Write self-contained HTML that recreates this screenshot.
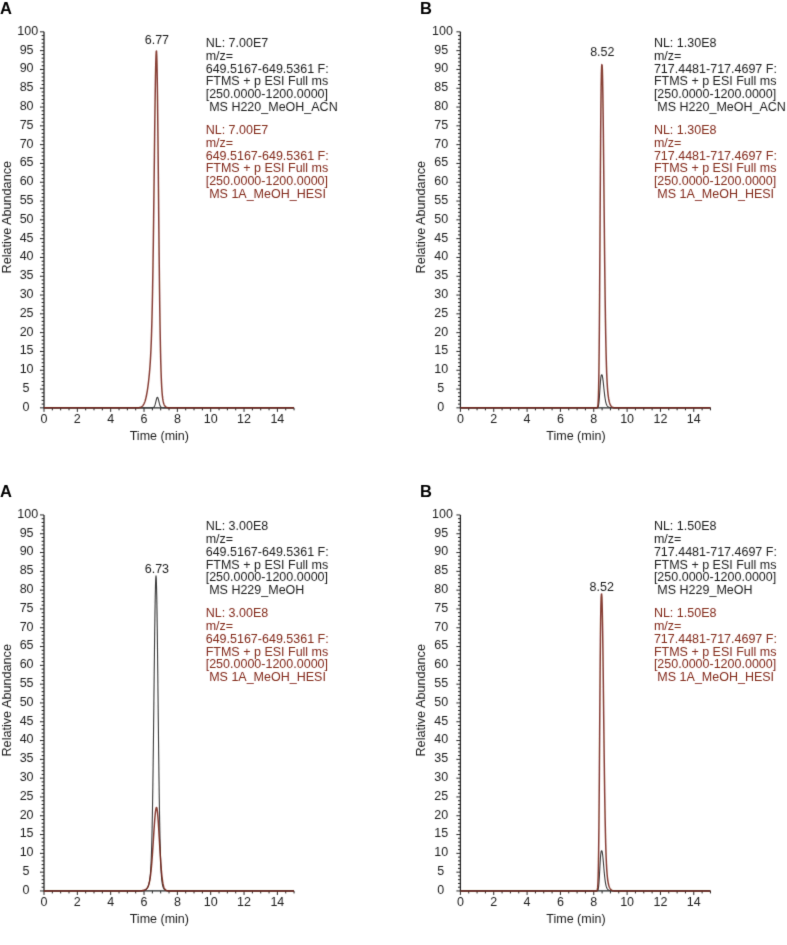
<!DOCTYPE html>
<html><head><meta charset="utf-8"><style>
html,body{margin:0;padding:0;background:#fff;}
body{width:787px;height:945px;overflow:hidden;}
svg{display:block;}
#w{will-change:transform;}
text{font-family:"Liberation Sans", sans-serif;font-size:12.5px;fill:#1e1e1e;}
text.r{fill:#82291b;}
text.L{font-size:16.5px;font-weight:bold;fill:#000;}
text.ra{font-size:12.65px;}
</style></head><body><div id="w">
<svg width="787" height="945" viewBox="0 0 787 945">
<defs><filter id="bl" filterUnits="userSpaceOnUse" x="0" y="0" width="787" height="945"><feConvolveMatrix order="3" kernelMatrix="0.0113 0.0838 0.0113 0.0838 0.6193 0.0838 0.0113 0.0838 0.0113" edgeMode="none" preserveAlpha="false"/></filter></defs>
<rect width="787" height="945" fill="#fff"/>
<g filter="url(#bl)">
<text class="L" x="0" y="14.2">A</text>
<path d="M44,31.85V407.85H294.05" fill="none" stroke="#262626" stroke-width="1.3"/>
<path d="M40,407.85H44M41.6,404.09H44M41.6,400.33H44M41.6,396.57H44M41.6,392.81H44M40,389.05H44M41.6,385.29H44M41.6,381.53H44M41.6,377.77H44M41.6,374.01H44M40,370.25H44M41.6,366.49H44M41.6,362.73H44M41.6,358.97H44M41.6,355.21H44M40,351.45H44M41.6,347.69H44M41.6,343.93H44M41.6,340.17H44M41.6,336.41H44M40,332.65H44M41.6,328.89H44M41.6,325.13H44M41.6,321.37H44M41.6,317.61H44M40,313.85H44M41.6,310.09H44M41.6,306.33H44M41.6,302.57H44M41.6,298.81H44M40,295.05H44M41.6,291.29H44M41.6,287.53H44M41.6,283.77H44M41.6,280.01H44M40,276.25H44M41.6,272.49H44M41.6,268.73H44M41.6,264.97H44M41.6,261.21H44M40,257.45H44M41.6,253.69H44M41.6,249.93H44M41.6,246.17H44M41.6,242.41H44M40,238.65H44M41.6,234.89H44M41.6,231.13H44M41.6,227.37H44M41.6,223.61H44M40,219.85H44M41.6,216.09H44M41.6,212.33H44M41.6,208.57H44M41.6,204.81H44M40,201.05H44M41.6,197.29H44M41.6,193.53H44M41.6,189.77H44M41.6,186.01H44M40,182.25H44M41.6,178.49H44M41.6,174.73H44M41.6,170.97H44M41.6,167.21H44M40,163.45H44M41.6,159.69H44M41.6,155.93H44M41.6,152.17H44M41.6,148.41H44M40,144.65H44M41.6,140.89H44M41.6,137.13H44M41.6,133.37H44M41.6,129.61H44M40,125.85H44M41.6,122.09H44M41.6,118.33H44M41.6,114.57H44M41.6,110.81H44M40,107.05H44M41.6,103.29H44M41.6,99.53H44M41.6,95.77H44M41.6,92.01H44M40,88.25H44M41.6,84.49H44M41.6,80.73H44M41.6,76.97H44M41.6,73.21H44M40,69.45H44M41.6,65.69H44M41.6,61.93H44M41.6,58.17H44M41.6,54.41H44M40,50.65H44M41.6,46.89H44M41.6,43.13H44M41.6,39.37H44M41.6,35.61H44M40,31.85H44M44,407.85V411.85M52.34,407.85V410.35M60.67,407.85V410.35M69,407.85V410.35M77.34,407.85V411.85M85.68,407.85V410.35M94.01,407.85V410.35M102.34,407.85V410.35M110.68,407.85V411.85M119.02,407.85V410.35M127.35,407.85V410.35M135.69,407.85V410.35M144.02,407.85V411.85M152.36,407.85V410.35M160.69,407.85V410.35M169.03,407.85V410.35M177.36,407.85V411.85M185.7,407.85V410.35M194.03,407.85V410.35M202.37,407.85V410.35M210.7,407.85V411.85M219.04,407.85V410.35M227.37,407.85V410.35M235.71,407.85V410.35M244.04,407.85V411.85M252.38,407.85V410.35M260.71,407.85V410.35M269.05,407.85V410.35M277.38,407.85V411.85M285.72,407.85V410.35M294.05,407.85V410.35" fill="none" stroke="#262626" stroke-width="1"/>
<text x="26" y="410.7" text-anchor="middle">0</text>
<text x="26" y="391.9" text-anchor="middle">5</text>
<text x="26.6" y="373.1" text-anchor="middle">10</text>
<text x="26.6" y="354.3" text-anchor="middle">15</text>
<text x="26.6" y="335.5" text-anchor="middle">20</text>
<text x="26.6" y="316.7" text-anchor="middle">25</text>
<text x="26.6" y="297.9" text-anchor="middle">30</text>
<text x="26.6" y="279.1" text-anchor="middle">35</text>
<text x="26.6" y="260.3" text-anchor="middle">40</text>
<text x="26.6" y="241.5" text-anchor="middle">45</text>
<text x="26.6" y="222.7" text-anchor="middle">50</text>
<text x="26.6" y="203.9" text-anchor="middle">55</text>
<text x="26.6" y="185.1" text-anchor="middle">60</text>
<text x="26.6" y="166.3" text-anchor="middle">65</text>
<text x="26.6" y="147.5" text-anchor="middle">70</text>
<text x="26.6" y="128.7" text-anchor="middle">75</text>
<text x="26.6" y="109.9" text-anchor="middle">80</text>
<text x="26.6" y="91.1" text-anchor="middle">85</text>
<text x="26.6" y="72.3" text-anchor="middle">90</text>
<text x="26.6" y="53.5" text-anchor="middle">95</text>
<text x="27.8" y="34.7" text-anchor="middle">100</text>
<text x="44" y="422.6" text-anchor="middle">0</text>
<text x="77.34" y="422.6" text-anchor="middle">2</text>
<text x="110.68" y="422.6" text-anchor="middle">4</text>
<text x="144.02" y="422.6" text-anchor="middle">6</text>
<text x="177.36" y="422.6" text-anchor="middle">8</text>
<text x="210.7" y="422.6" text-anchor="middle">10</text>
<text x="244.04" y="422.6" text-anchor="middle">12</text>
<text x="277.38" y="422.6" text-anchor="middle">14</text>
<text x="129.7" y="439.7">Time (min)</text>
<text class="ra" transform="translate(10.8,217.2) rotate(-90)" text-anchor="middle">Relative Abundance</text>
<path d="M44,407.85 L44.25,407.85 L44.5,407.85 L44.75,407.85 L45,407.85 L45.25,407.85 L45.5,407.85 L45.75,407.85 L46,407.85 L46.25,407.85 L46.5,407.85 L46.75,407.85 L47,407.85 L47.25,407.85 L47.5,407.85 L47.75,407.85 L48,407.85 L48.25,407.85 L48.5,407.85 L48.75,407.85 L49,407.85 L49.25,407.85 L49.5,407.85 L49.75,407.85 L50,407.85 L50.25,407.85 L50.5,407.85 L50.75,407.85 L51,407.85 L51.25,407.85 L51.5,407.85 L51.75,407.85 L52,407.85 L52.25,407.85 L52.5,407.85 L52.75,407.85 L53,407.85 L53.25,407.85 L53.5,407.85 L53.75,407.85 L54,407.85 L54.25,407.85 L54.5,407.85 L54.75,407.85 L55,407.85 L55.25,407.85 L55.5,407.85 L55.75,407.85 L56,407.85 L56.25,407.85 L56.5,407.85 L56.75,407.85 L57,407.85 L57.25,407.85 L57.5,407.85 L57.75,407.85 L58,407.85 L58.25,407.85 L58.5,407.85 L58.75,407.85 L59,407.85 L59.25,407.85 L59.5,407.85 L59.75,407.85 L60,407.85 L60.25,407.85 L60.5,407.85 L60.75,407.85 L61,407.85 L61.25,407.85 L61.5,407.85 L61.75,407.85 L62,407.85 L62.25,407.85 L62.5,407.85 L62.75,407.85 L63,407.85 L63.25,407.85 L63.5,407.85 L63.75,407.85 L64,407.85 L64.25,407.85 L64.5,407.85 L64.75,407.85 L65,407.85 L65.25,407.85 L65.5,407.85 L65.75,407.85 L66,407.85 L66.25,407.85 L66.5,407.85 L66.75,407.85 L67,407.85 L67.25,407.85 L67.5,407.85 L67.75,407.85 L68,407.85 L68.25,407.85 L68.5,407.85 L68.75,407.85 L69,407.85 L69.25,407.85 L69.5,407.85 L69.75,407.85 L70,407.85 L70.25,407.85 L70.5,407.85 L70.75,407.85 L71,407.85 L71.25,407.85 L71.5,407.85 L71.75,407.85 L72,407.85 L72.25,407.85 L72.5,407.85 L72.75,407.85 L73,407.85 L73.25,407.85 L73.5,407.85 L73.75,407.85 L74,407.85 L74.25,407.85 L74.5,407.85 L74.75,407.85 L75,407.85 L75.25,407.85 L75.5,407.85 L75.75,407.85 L76,407.85 L76.25,407.85 L76.5,407.85 L76.75,407.85 L77,407.85 L77.25,407.85 L77.5,407.85 L77.75,407.85 L78,407.85 L78.25,407.85 L78.5,407.85 L78.75,407.85 L79,407.85 L79.25,407.85 L79.5,407.85 L79.75,407.85 L80,407.85 L80.25,407.85 L80.5,407.85 L80.75,407.85 L81,407.85 L81.25,407.85 L81.5,407.85 L81.75,407.85 L82,407.85 L82.25,407.85 L82.5,407.85 L82.75,407.85 L83,407.85 L83.25,407.85 L83.5,407.85 L83.75,407.85 L84,407.85 L84.25,407.85 L84.5,407.85 L84.75,407.85 L85,407.85 L85.25,407.85 L85.5,407.85 L85.75,407.85 L86,407.85 L86.25,407.85 L86.5,407.85 L86.75,407.85 L87,407.85 L87.25,407.85 L87.5,407.85 L87.75,407.85 L88,407.85 L88.25,407.85 L88.5,407.85 L88.75,407.85 L89,407.85 L89.25,407.85 L89.5,407.85 L89.75,407.85 L90,407.85 L90.25,407.85 L90.5,407.85 L90.75,407.85 L91,407.85 L91.25,407.85 L91.5,407.85 L91.75,407.85 L92,407.85 L92.25,407.85 L92.5,407.85 L92.75,407.85 L93,407.85 L93.25,407.85 L93.5,407.85 L93.75,407.85 L94,407.85 L94.25,407.85 L94.5,407.85 L94.75,407.85 L95,407.85 L95.25,407.85 L95.5,407.85 L95.75,407.85 L96,407.85 L96.25,407.85 L96.5,407.85 L96.75,407.85 L97,407.85 L97.25,407.85 L97.5,407.85 L97.75,407.85 L98,407.85 L98.25,407.85 L98.5,407.85 L98.75,407.85 L99,407.85 L99.25,407.85 L99.5,407.85 L99.75,407.85 L100,407.85 L100.25,407.85 L100.5,407.85 L100.75,407.85 L101,407.85 L101.25,407.85 L101.5,407.85 L101.75,407.85 L102,407.85 L102.25,407.85 L102.5,407.85 L102.75,407.85 L103,407.85 L103.25,407.85 L103.5,407.85 L103.75,407.85 L104,407.85 L104.25,407.85 L104.5,407.85 L104.75,407.85 L105,407.85 L105.25,407.85 L105.5,407.85 L105.75,407.85 L106,407.85 L106.25,407.85 L106.5,407.85 L106.75,407.85 L107,407.85 L107.25,407.85 L107.5,407.85 L107.75,407.85 L108,407.85 L108.25,407.85 L108.5,407.85 L108.75,407.85 L109,407.85 L109.25,407.85 L109.5,407.85 L109.75,407.85 L110,407.85 L110.25,407.85 L110.5,407.85 L110.75,407.85 L111,407.85 L111.25,407.85 L111.5,407.85 L111.75,407.85 L112,407.85 L112.25,407.85 L112.5,407.85 L112.75,407.85 L113,407.85 L113.25,407.85 L113.5,407.85 L113.75,407.85 L114,407.85 L114.25,407.85 L114.5,407.85 L114.75,407.85 L115,407.85 L115.25,407.85 L115.5,407.85 L115.75,407.85 L116,407.85 L116.25,407.85 L116.5,407.85 L116.75,407.85 L117,407.85 L117.25,407.85 L117.5,407.85 L117.75,407.85 L118,407.85 L118.25,407.85 L118.5,407.85 L118.75,407.85 L119,407.85 L119.25,407.85 L119.5,407.85 L119.75,407.85 L120,407.85 L120.25,407.85 L120.5,407.85 L120.75,407.85 L121,407.85 L121.25,407.85 L121.5,407.85 L121.75,407.85 L122,407.85 L122.25,407.85 L122.5,407.85 L122.75,407.85 L123,407.85 L123.25,407.85 L123.5,407.85 L123.75,407.85 L124,407.85 L124.25,407.85 L124.5,407.85 L124.75,407.85 L125,407.85 L125.25,407.85 L125.5,407.85 L125.75,407.85 L126,407.85 L126.25,407.85 L126.5,407.85 L126.75,407.85 L127,407.85 L127.25,407.85 L127.5,407.85 L127.75,407.85 L128,407.85 L128.25,407.85 L128.5,407.85 L128.75,407.85 L129,407.85 L129.25,407.85 L129.5,407.85 L129.75,407.85 L130,407.85 L130.25,407.85 L130.5,407.85 L130.75,407.85 L131,407.85 L131.25,407.85 L131.5,407.85 L131.75,407.85 L132,407.85 L132.25,407.85 L132.5,407.85 L132.75,407.85 L133,407.85 L133.25,407.85 L133.5,407.85 L133.75,407.85 L134,407.85 L134.25,407.85 L134.5,407.85 L134.75,407.85 L135,407.85 L135.25,407.85 L135.5,407.85 L135.75,407.85 L136,407.85 L136.25,407.85 L136.5,407.85 L136.75,407.85 L137,407.85 L137.25,407.85 L137.5,407.85 L137.75,407.85 L138,407.85 L138.25,407.85 L138.5,407.85 L138.75,407.85 L139,407.85 L139.25,407.85 L139.5,407.85 L139.75,407.85 L140,407.85 L140.25,407.85 L140.5,407.85 L140.75,407.85 L141,407.85 L141.25,407.85 L141.5,407.85 L141.75,407.85 L142,407.85 L142.25,407.85 L142.5,407.85 L142.75,407.85 L143,407.85 L143.25,407.85 L143.5,407.85 L143.75,407.85 L144,407.85 L144.25,407.85 L144.5,407.85 L144.75,407.85 L145,407.85 L145.25,407.85 L145.5,407.85 L145.75,407.85 L146,407.85 L146.25,407.85 L146.5,407.85 L146.75,407.85 L147,407.85 L147.25,407.85 L147.5,407.85 L147.75,407.85 L148,407.85 L148.25,407.85 L148.5,407.85 L148.75,407.85 L149,407.85 L149.25,407.85 L149.5,407.85 L149.75,407.85 L150,407.85 L150.25,407.85 L150.5,407.85 L150.75,407.85 L151,407.85 L151.25,407.85 L151.5,407.85 L151.75,407.84 L152,407.83 L152.25,407.82 L152.5,407.8 L152.75,407.76 L153,407.71 L153.25,407.62 L153.5,407.49 L153.75,407.3 L154,407.04 L154.25,406.69 L154.5,406.23 L154.75,405.64 L155,404.92 L155.25,404.08 L155.5,403.13 L155.75,402.1 L156,401.04 L156.25,400 L156.5,399.06 L156.75,398.27 L157,397.69 L157.25,397.37 L157.5,397.35 L157.75,397.6 L158,398.13 L158.25,398.88 L158.5,399.8 L158.75,400.83 L159,401.89 L159.25,402.93 L159.5,403.9 L159.75,404.76 L160,405.51 L160.25,406.12 L160.5,406.61 L160.75,406.98 L161,407.26 L161.25,407.46 L161.5,407.6 L161.75,407.69 L162,407.75 L162.25,407.79 L162.5,407.82 L162.75,407.83 L163,407.84 L163.25,407.84 L163.5,407.85 L163.75,407.85 L164,407.85 L164.25,407.85 L164.5,407.85 L164.75,407.85 L165,407.85 L165.25,407.85 L165.5,407.85 L165.75,407.85 L166,407.85 L166.25,407.85 L166.5,407.85 L166.75,407.85 L167,407.85 L167.25,407.85 L167.5,407.85 L167.75,407.85 L168,407.85 L168.25,407.85 L168.5,407.85 L168.75,407.85 L169,407.85 L169.25,407.85 L169.5,407.85 L169.75,407.85 L170,407.85 L170.25,407.85 L170.5,407.85 L170.75,407.85 L171,407.85 L171.25,407.85 L171.5,407.85 L171.75,407.85 L172,407.85 L172.25,407.85 L172.5,407.85 L172.75,407.85 L173,407.85 L173.25,407.85 L173.5,407.85 L173.75,407.85 L174,407.85 L174.25,407.85 L174.5,407.85 L174.75,407.85 L175,407.85 L175.25,407.85 L175.5,407.85 L175.75,407.85 L176,407.85 L176.25,407.85 L176.5,407.85 L176.75,407.85 L177,407.85 L177.25,407.85 L177.5,407.85 L177.75,407.85 L178,407.85 L178.25,407.85 L178.5,407.85 L178.75,407.85 L179,407.85 L179.25,407.85 L179.5,407.85 L179.75,407.85 L180,407.85 L180.25,407.85 L180.5,407.85 L180.75,407.85 L181,407.85 L181.25,407.85 L181.5,407.85 L181.75,407.85 L182,407.85 L182.25,407.85 L182.5,407.85 L182.75,407.85 L183,407.85 L183.25,407.85 L183.5,407.85 L183.75,407.85 L184,407.85 L184.25,407.85 L184.5,407.85 L184.75,407.85 L185,407.85 L185.25,407.85 L185.5,407.85 L185.75,407.85 L186,407.85 L186.25,407.85 L186.5,407.85 L186.75,407.85 L187,407.85 L187.25,407.85 L187.5,407.85 L187.75,407.85 L188,407.85 L188.25,407.85 L188.5,407.85 L188.75,407.85 L189,407.85 L189.25,407.85 L189.5,407.85 L189.75,407.85 L190,407.85 L190.25,407.85 L190.5,407.85 L190.75,407.85 L191,407.85 L191.25,407.85 L191.5,407.85 L191.75,407.85 L192,407.85 L192.25,407.85 L192.5,407.85 L192.75,407.85 L193,407.85 L193.25,407.85 L193.5,407.85 L193.75,407.85 L194,407.85 L194.25,407.85 L194.5,407.85 L194.75,407.85 L195,407.85 L195.25,407.85 L195.5,407.85 L195.75,407.85 L196,407.85 L196.25,407.85 L196.5,407.85 L196.75,407.85 L197,407.85 L197.25,407.85 L197.5,407.85 L197.75,407.85 L198,407.85 L198.25,407.85 L198.5,407.85 L198.75,407.85 L199,407.85 L199.25,407.85 L199.5,407.85 L199.75,407.85 L200,407.85 L200.25,407.85 L200.5,407.85 L200.75,407.85 L201,407.85 L201.25,407.85 L201.5,407.85 L201.75,407.85 L202,407.85 L202.25,407.85 L202.5,407.85 L202.75,407.85 L203,407.85 L203.25,407.85 L203.5,407.85 L203.75,407.85 L204,407.85 L204.25,407.85 L204.5,407.85 L204.75,407.85 L205,407.85 L205.25,407.85 L205.5,407.85 L205.75,407.85 L206,407.85 L206.25,407.85 L206.5,407.85 L206.75,407.85 L207,407.85 L207.25,407.85 L207.5,407.85 L207.75,407.85 L208,407.85 L208.25,407.85 L208.5,407.85 L208.75,407.85 L209,407.85 L209.25,407.85 L209.5,407.85 L209.75,407.85 L210,407.85 L210.25,407.85 L210.5,407.85 L210.75,407.85 L211,407.85 L211.25,407.85 L211.5,407.85 L211.75,407.85 L212,407.85 L212.25,407.85 L212.5,407.85 L212.75,407.85 L213,407.85 L213.25,407.85 L213.5,407.85 L213.75,407.85 L214,407.85 L214.25,407.85 L214.5,407.85 L214.75,407.85 L215,407.85 L215.25,407.85 L215.5,407.85 L215.75,407.85 L216,407.85 L216.25,407.85 L216.5,407.85 L216.75,407.85 L217,407.85 L217.25,407.85 L217.5,407.85 L217.75,407.85 L218,407.85 L218.25,407.85 L218.5,407.85 L218.75,407.85 L219,407.85 L219.25,407.85 L219.5,407.85 L219.75,407.85 L220,407.85 L220.25,407.85 L220.5,407.85 L220.75,407.85 L221,407.85 L221.25,407.85 L221.5,407.85 L221.75,407.85 L222,407.85 L222.25,407.85 L222.5,407.85 L222.75,407.85 L223,407.85 L223.25,407.85 L223.5,407.85 L223.75,407.85 L224,407.85 L224.25,407.85 L224.5,407.85 L224.75,407.85 L225,407.85 L225.25,407.85 L225.5,407.85 L225.75,407.85 L226,407.85 L226.25,407.85 L226.5,407.85 L226.75,407.85 L227,407.85 L227.25,407.85 L227.5,407.85 L227.75,407.85 L228,407.85 L228.25,407.85 L228.5,407.85 L228.75,407.85 L229,407.85 L229.25,407.85 L229.5,407.85 L229.75,407.85 L230,407.85 L230.25,407.85 L230.5,407.85 L230.75,407.85 L231,407.85 L231.25,407.85 L231.5,407.85 L231.75,407.85 L232,407.85 L232.25,407.85 L232.5,407.85 L232.75,407.85 L233,407.85 L233.25,407.85 L233.5,407.85 L233.75,407.85 L234,407.85 L234.25,407.85 L234.5,407.85 L234.75,407.85 L235,407.85 L235.25,407.85 L235.5,407.85 L235.75,407.85 L236,407.85 L236.25,407.85 L236.5,407.85 L236.75,407.85 L237,407.85 L237.25,407.85 L237.5,407.85 L237.75,407.85 L238,407.85 L238.25,407.85 L238.5,407.85 L238.75,407.85 L239,407.85 L239.25,407.85 L239.5,407.85 L239.75,407.85 L240,407.85 L240.25,407.85 L240.5,407.85 L240.75,407.85 L241,407.85 L241.25,407.85 L241.5,407.85 L241.75,407.85 L242,407.85 L242.25,407.85 L242.5,407.85 L242.75,407.85 L243,407.85 L243.25,407.85 L243.5,407.85 L243.75,407.85 L244,407.85 L244.25,407.85 L244.5,407.85 L244.75,407.85 L245,407.85 L245.25,407.85 L245.5,407.85 L245.75,407.85 L246,407.85 L246.25,407.85 L246.5,407.85 L246.75,407.85 L247,407.85 L247.25,407.85 L247.5,407.85 L247.75,407.85 L248,407.85 L248.25,407.85 L248.5,407.85 L248.75,407.85 L249,407.85 L249.25,407.85 L249.5,407.85 L249.75,407.85 L250,407.85 L250.25,407.85 L250.5,407.85 L250.75,407.85 L251,407.85 L251.25,407.85 L251.5,407.85 L251.75,407.85 L252,407.85 L252.25,407.85 L252.5,407.85 L252.75,407.85 L253,407.85 L253.25,407.85 L253.5,407.85 L253.75,407.85 L254,407.85 L254.25,407.85 L254.5,407.85 L254.75,407.85 L255,407.85 L255.25,407.85 L255.5,407.85 L255.75,407.85 L256,407.85 L256.25,407.85 L256.5,407.85 L256.75,407.85 L257,407.85 L257.25,407.85 L257.5,407.85 L257.75,407.85 L258,407.85 L258.25,407.85 L258.5,407.85 L258.75,407.85 L259,407.85 L259.25,407.85 L259.5,407.85 L259.75,407.85 L260,407.85 L260.25,407.85 L260.5,407.85 L260.75,407.85 L261,407.85 L261.25,407.85 L261.5,407.85 L261.75,407.85 L262,407.85 L262.25,407.85 L262.5,407.85 L262.75,407.85 L263,407.85 L263.25,407.85 L263.5,407.85 L263.75,407.85 L264,407.85 L264.25,407.85 L264.5,407.85 L264.75,407.85 L265,407.85 L265.25,407.85 L265.5,407.85 L265.75,407.85 L266,407.85 L266.25,407.85 L266.5,407.85 L266.75,407.85 L267,407.85 L267.25,407.85 L267.5,407.85 L267.75,407.85 L268,407.85 L268.25,407.85 L268.5,407.85 L268.75,407.85 L269,407.85 L269.25,407.85 L269.5,407.85 L269.75,407.85 L270,407.85 L270.25,407.85 L270.5,407.85 L270.75,407.85 L271,407.85 L271.25,407.85 L271.5,407.85 L271.75,407.85 L272,407.85 L272.25,407.85 L272.5,407.85 L272.75,407.85 L273,407.85 L273.25,407.85 L273.5,407.85 L273.75,407.85 L274,407.85 L274.25,407.85 L274.5,407.85 L274.75,407.85 L275,407.85 L275.25,407.85 L275.5,407.85 L275.75,407.85 L276,407.85 L276.25,407.85 L276.5,407.85 L276.75,407.85 L277,407.85 L277.25,407.85 L277.5,407.85 L277.75,407.85 L278,407.85 L278.25,407.85 L278.5,407.85 L278.75,407.85 L279,407.85 L279.25,407.85 L279.5,407.85 L279.75,407.85 L280,407.85 L280.25,407.85 L280.5,407.85 L280.75,407.85 L281,407.85 L281.25,407.85 L281.5,407.85 L281.75,407.85 L282,407.85 L282.25,407.85 L282.5,407.85 L282.75,407.85 L283,407.85 L283.25,407.85 L283.5,407.85 L283.75,407.85 L284,407.85 L284.25,407.85 L284.5,407.85 L284.75,407.85 L285,407.85 L285.25,407.85 L285.5,407.85 L285.75,407.85 L286,407.85 L286.25,407.85 L286.5,407.85 L286.75,407.85 L287,407.85 L287.25,407.85 L287.5,407.85 L287.75,407.85 L288,407.85 L288.25,407.85 L288.5,407.85 L288.75,407.85 L289,407.85 L289.25,407.85 L289.5,407.85 L289.75,407.85 L290,407.85 L290.25,407.85 L290.5,407.85 L290.75,407.85 L291,407.85 L291.25,407.85 L291.5,407.85 L291.75,407.85 L292,407.85 L292.25,407.85 L292.5,407.85 L292.75,407.85 L293,407.85 L293.25,407.85 L293.5,407.85 L293.75,407.85 L294,407.85" fill="none" stroke="#3a3a3a" stroke-width="1.1" stroke-linejoin="round"/>
<path d="M44,407.85 L44.25,407.85 L44.5,407.85 L44.75,407.85 L45,407.85 L45.25,407.85 L45.5,407.85 L45.75,407.85 L46,407.85 L46.25,407.85 L46.5,407.85 L46.75,407.85 L47,407.85 L47.25,407.85 L47.5,407.85 L47.75,407.85 L48,407.85 L48.25,407.85 L48.5,407.85 L48.75,407.85 L49,407.85 L49.25,407.85 L49.5,407.85 L49.75,407.85 L50,407.85 L50.25,407.85 L50.5,407.85 L50.75,407.85 L51,407.85 L51.25,407.85 L51.5,407.85 L51.75,407.85 L52,407.85 L52.25,407.85 L52.5,407.85 L52.75,407.85 L53,407.85 L53.25,407.85 L53.5,407.85 L53.75,407.85 L54,407.85 L54.25,407.85 L54.5,407.85 L54.75,407.85 L55,407.85 L55.25,407.85 L55.5,407.85 L55.75,407.85 L56,407.85 L56.25,407.85 L56.5,407.85 L56.75,407.85 L57,407.85 L57.25,407.85 L57.5,407.85 L57.75,407.85 L58,407.85 L58.25,407.85 L58.5,407.85 L58.75,407.85 L59,407.85 L59.25,407.85 L59.5,407.85 L59.75,407.85 L60,407.85 L60.25,407.85 L60.5,407.85 L60.75,407.85 L61,407.85 L61.25,407.85 L61.5,407.85 L61.75,407.85 L62,407.85 L62.25,407.85 L62.5,407.85 L62.75,407.85 L63,407.85 L63.25,407.85 L63.5,407.85 L63.75,407.85 L64,407.85 L64.25,407.85 L64.5,407.85 L64.75,407.85 L65,407.85 L65.25,407.85 L65.5,407.85 L65.75,407.85 L66,407.85 L66.25,407.85 L66.5,407.85 L66.75,407.85 L67,407.85 L67.25,407.85 L67.5,407.85 L67.75,407.85 L68,407.85 L68.25,407.85 L68.5,407.85 L68.75,407.85 L69,407.85 L69.25,407.85 L69.5,407.85 L69.75,407.85 L70,407.85 L70.25,407.85 L70.5,407.85 L70.75,407.85 L71,407.85 L71.25,407.85 L71.5,407.85 L71.75,407.85 L72,407.85 L72.25,407.85 L72.5,407.85 L72.75,407.85 L73,407.85 L73.25,407.85 L73.5,407.85 L73.75,407.85 L74,407.85 L74.25,407.85 L74.5,407.85 L74.75,407.85 L75,407.85 L75.25,407.85 L75.5,407.85 L75.75,407.85 L76,407.85 L76.25,407.85 L76.5,407.85 L76.75,407.85 L77,407.85 L77.25,407.85 L77.5,407.85 L77.75,407.85 L78,407.85 L78.25,407.85 L78.5,407.85 L78.75,407.85 L79,407.85 L79.25,407.85 L79.5,407.85 L79.75,407.85 L80,407.85 L80.25,407.85 L80.5,407.85 L80.75,407.85 L81,407.85 L81.25,407.85 L81.5,407.85 L81.75,407.85 L82,407.85 L82.25,407.85 L82.5,407.85 L82.75,407.85 L83,407.85 L83.25,407.85 L83.5,407.85 L83.75,407.85 L84,407.85 L84.25,407.85 L84.5,407.85 L84.75,407.85 L85,407.85 L85.25,407.85 L85.5,407.85 L85.75,407.85 L86,407.85 L86.25,407.85 L86.5,407.85 L86.75,407.85 L87,407.85 L87.25,407.85 L87.5,407.85 L87.75,407.85 L88,407.85 L88.25,407.85 L88.5,407.85 L88.75,407.85 L89,407.85 L89.25,407.85 L89.5,407.85 L89.75,407.85 L90,407.85 L90.25,407.85 L90.5,407.85 L90.75,407.85 L91,407.85 L91.25,407.85 L91.5,407.85 L91.75,407.85 L92,407.85 L92.25,407.85 L92.5,407.85 L92.75,407.85 L93,407.85 L93.25,407.85 L93.5,407.85 L93.75,407.85 L94,407.85 L94.25,407.85 L94.5,407.85 L94.75,407.85 L95,407.85 L95.25,407.85 L95.5,407.85 L95.75,407.85 L96,407.85 L96.25,407.85 L96.5,407.85 L96.75,407.85 L97,407.85 L97.25,407.85 L97.5,407.85 L97.75,407.85 L98,407.85 L98.25,407.85 L98.5,407.85 L98.75,407.85 L99,407.85 L99.25,407.85 L99.5,407.85 L99.75,407.85 L100,407.85 L100.25,407.85 L100.5,407.85 L100.75,407.85 L101,407.85 L101.25,407.85 L101.5,407.85 L101.75,407.85 L102,407.85 L102.25,407.85 L102.5,407.85 L102.75,407.85 L103,407.85 L103.25,407.85 L103.5,407.85 L103.75,407.85 L104,407.85 L104.25,407.85 L104.5,407.85 L104.75,407.85 L105,407.85 L105.25,407.85 L105.5,407.85 L105.75,407.85 L106,407.85 L106.25,407.85 L106.5,407.85 L106.75,407.85 L107,407.85 L107.25,407.85 L107.5,407.85 L107.75,407.85 L108,407.85 L108.25,407.85 L108.5,407.85 L108.75,407.85 L109,407.85 L109.25,407.85 L109.5,407.85 L109.75,407.85 L110,407.85 L110.25,407.85 L110.5,407.85 L110.75,407.85 L111,407.85 L111.25,407.85 L111.5,407.85 L111.75,407.85 L112,407.85 L112.25,407.85 L112.5,407.85 L112.75,407.85 L113,407.85 L113.25,407.85 L113.5,407.85 L113.75,407.85 L114,407.85 L114.25,407.85 L114.5,407.85 L114.75,407.85 L115,407.85 L115.25,407.85 L115.5,407.85 L115.75,407.85 L116,407.85 L116.25,407.85 L116.5,407.85 L116.75,407.85 L117,407.85 L117.25,407.85 L117.5,407.85 L117.75,407.85 L118,407.85 L118.25,407.85 L118.5,407.85 L118.75,407.85 L119,407.85 L119.25,407.85 L119.5,407.85 L119.75,407.85 L120,407.85 L120.25,407.85 L120.5,407.85 L120.75,407.85 L121,407.85 L121.25,407.85 L121.5,407.85 L121.75,407.85 L122,407.85 L122.25,407.85 L122.5,407.85 L122.75,407.85 L123,407.85 L123.25,407.85 L123.5,407.85 L123.75,407.85 L124,407.85 L124.25,407.85 L124.5,407.85 L124.75,407.85 L125,407.85 L125.25,407.85 L125.5,407.85 L125.75,407.85 L126,407.85 L126.25,407.85 L126.5,407.85 L126.75,407.85 L127,407.85 L127.25,407.85 L127.5,407.85 L127.75,407.85 L128,407.85 L128.25,407.85 L128.5,407.85 L128.75,407.85 L129,407.85 L129.25,407.85 L129.5,407.85 L129.75,407.85 L130,407.85 L130.25,407.85 L130.5,407.85 L130.75,407.85 L131,407.85 L131.25,407.85 L131.5,407.85 L131.75,407.85 L132,407.85 L132.25,407.85 L132.5,407.85 L132.75,407.85 L133,407.85 L133.25,407.85 L133.5,407.85 L133.75,407.85 L134,407.85 L134.25,407.85 L134.5,407.84 L134.75,407.84 L135,407.84 L135.25,407.84 L135.5,407.84 L135.75,407.83 L136,407.83 L136.25,407.82 L136.5,407.82 L136.75,407.81 L137,407.8 L137.25,407.79 L137.5,407.78 L137.75,407.76 L138,407.75 L138.25,407.73 L138.5,407.7 L138.75,407.67 L139,407.64 L139.25,407.6 L139.5,407.55 L139.75,407.5 L140,407.44 L140.25,407.37 L140.5,407.28 L140.75,407.18 L141,407.07 L141.25,406.94 L141.5,406.8 L141.75,406.63 L142,406.44 L142.25,406.22 L142.5,405.98 L142.75,405.7 L143,405.39 L143.25,405.04 L143.5,404.65 L143.75,404.21 L144,403.73 L144.25,403.19 L144.5,402.59 L144.75,401.93 L145,401.21 L145.25,400.42 L145.5,399.55 L145.75,398.61 L146,397.58 L146.25,396.47 L146.5,395.27 L146.75,393.98 L147,392.58 L147.25,391.09 L147.5,389.5 L147.75,387.8 L148,385.98 L148.25,384.05 L148.5,381.99 L148.75,379.79 L149,377.44 L149.25,374.91 L149.5,372.18 L149.75,369.19 L150,365.91 L150.25,362.26 L150.5,358.16 L150.75,353.51 L151,348.19 L151.25,342.07 L151.5,335 L151.75,326.82 L152,317.39 L152.25,306.56 L152.5,294.22 L152.75,280.28 L153,264.75 L153.25,247.65 L153.5,229.13 L153.75,209.42 L154,188.84 L154.25,167.81 L154.5,146.85 L154.75,126.53 L155,107.47 L155.25,90.28 L155.5,75.59 L155.75,63.93 L156,55.75 L156.25,51.37 L156.5,51.07 L156.75,55.71 L157,65.32 L157.25,79.45 L157.5,97.5 L157.75,118.7 L158,142.23 L158.25,167.2 L158.5,192.77 L158.75,218.14 L159,242.65 L159.25,265.74 L159.5,287.01 L159.75,306.2 L160,323.18 L160.25,337.94 L160.5,350.55 L160.75,361.16 L161,369.96 L161.25,377.18 L161.5,383.05 L161.75,387.76 L162,391.54 L162.25,394.55 L162.5,396.96 L162.75,398.88 L163,400.43 L163.25,401.68 L163.5,402.7 L163.75,403.54 L164,404.23 L164.25,404.82 L164.5,405.31 L164.75,405.72 L165,406.07 L165.25,406.37 L165.5,406.62 L165.75,406.84 L166,407.02 L166.25,407.17 L166.5,407.29 L166.75,407.4 L167,407.49 L167.25,407.56 L167.5,407.62 L167.75,407.66 L168,407.7 L168.25,407.73 L168.5,407.76 L168.75,407.78 L169,407.8 L169.25,407.81 L169.5,407.82 L169.75,407.83 L170,407.83 L170.25,407.84 L170.5,407.84 L170.75,407.84 L171,407.84 L171.25,407.85 L171.5,407.85 L171.75,407.85 L172,407.85 L172.25,407.85 L172.5,407.85 L172.75,407.85 L173,407.85 L173.25,407.85 L173.5,407.85 L173.75,407.85 L174,407.85 L174.25,407.85 L174.5,407.85 L174.75,407.85 L175,407.85 L175.25,407.85 L175.5,407.85 L175.75,407.85 L176,407.85 L176.25,407.85 L176.5,407.85 L176.75,407.85 L177,407.85 L177.25,407.85 L177.5,407.85 L177.75,407.85 L178,407.85 L178.25,407.85 L178.5,407.85 L178.75,407.85 L179,407.85 L179.25,407.85 L179.5,407.85 L179.75,407.85 L180,407.85 L180.25,407.85 L180.5,407.85 L180.75,407.85 L181,407.85 L181.25,407.85 L181.5,407.85 L181.75,407.85 L182,407.85 L182.25,407.85 L182.5,407.85 L182.75,407.85 L183,407.85 L183.25,407.85 L183.5,407.85 L183.75,407.85 L184,407.85 L184.25,407.85 L184.5,407.85 L184.75,407.85 L185,407.85 L185.25,407.85 L185.5,407.85 L185.75,407.85 L186,407.85 L186.25,407.85 L186.5,407.85 L186.75,407.85 L187,407.85 L187.25,407.85 L187.5,407.85 L187.75,407.85 L188,407.85 L188.25,407.85 L188.5,407.85 L188.75,407.85 L189,407.85 L189.25,407.85 L189.5,407.85 L189.75,407.85 L190,407.85 L190.25,407.85 L190.5,407.85 L190.75,407.85 L191,407.85 L191.25,407.85 L191.5,407.85 L191.75,407.85 L192,407.85 L192.25,407.85 L192.5,407.85 L192.75,407.85 L193,407.85 L193.25,407.85 L193.5,407.85 L193.75,407.85 L194,407.85 L194.25,407.85 L194.5,407.85 L194.75,407.85 L195,407.85 L195.25,407.85 L195.5,407.85 L195.75,407.85 L196,407.85 L196.25,407.85 L196.5,407.85 L196.75,407.85 L197,407.85 L197.25,407.85 L197.5,407.85 L197.75,407.85 L198,407.85 L198.25,407.85 L198.5,407.85 L198.75,407.85 L199,407.85 L199.25,407.85 L199.5,407.85 L199.75,407.85 L200,407.85 L200.25,407.85 L200.5,407.85 L200.75,407.85 L201,407.85 L201.25,407.85 L201.5,407.85 L201.75,407.85 L202,407.85 L202.25,407.85 L202.5,407.85 L202.75,407.85 L203,407.85 L203.25,407.85 L203.5,407.85 L203.75,407.85 L204,407.85 L204.25,407.85 L204.5,407.85 L204.75,407.85 L205,407.85 L205.25,407.85 L205.5,407.85 L205.75,407.85 L206,407.85 L206.25,407.85 L206.5,407.85 L206.75,407.85 L207,407.85 L207.25,407.85 L207.5,407.85 L207.75,407.85 L208,407.85 L208.25,407.85 L208.5,407.85 L208.75,407.85 L209,407.85 L209.25,407.85 L209.5,407.85 L209.75,407.85 L210,407.85 L210.25,407.85 L210.5,407.85 L210.75,407.85 L211,407.85 L211.25,407.85 L211.5,407.85 L211.75,407.85 L212,407.85 L212.25,407.85 L212.5,407.85 L212.75,407.85 L213,407.85 L213.25,407.85 L213.5,407.85 L213.75,407.85 L214,407.85 L214.25,407.85 L214.5,407.85 L214.75,407.85 L215,407.85 L215.25,407.85 L215.5,407.85 L215.75,407.85 L216,407.85 L216.25,407.85 L216.5,407.85 L216.75,407.85 L217,407.85 L217.25,407.85 L217.5,407.85 L217.75,407.85 L218,407.85 L218.25,407.85 L218.5,407.85 L218.75,407.85 L219,407.85 L219.25,407.85 L219.5,407.85 L219.75,407.85 L220,407.85 L220.25,407.85 L220.5,407.85 L220.75,407.85 L221,407.85 L221.25,407.85 L221.5,407.85 L221.75,407.85 L222,407.85 L222.25,407.85 L222.5,407.85 L222.75,407.85 L223,407.85 L223.25,407.85 L223.5,407.85 L223.75,407.85 L224,407.85 L224.25,407.85 L224.5,407.85 L224.75,407.85 L225,407.85 L225.25,407.85 L225.5,407.85 L225.75,407.85 L226,407.85 L226.25,407.85 L226.5,407.85 L226.75,407.85 L227,407.85 L227.25,407.85 L227.5,407.85 L227.75,407.85 L228,407.85 L228.25,407.85 L228.5,407.85 L228.75,407.85 L229,407.85 L229.25,407.85 L229.5,407.85 L229.75,407.85 L230,407.85 L230.25,407.85 L230.5,407.85 L230.75,407.85 L231,407.85 L231.25,407.85 L231.5,407.85 L231.75,407.85 L232,407.85 L232.25,407.85 L232.5,407.85 L232.75,407.85 L233,407.85 L233.25,407.85 L233.5,407.85 L233.75,407.85 L234,407.85 L234.25,407.85 L234.5,407.85 L234.75,407.85 L235,407.85 L235.25,407.85 L235.5,407.85 L235.75,407.85 L236,407.85 L236.25,407.85 L236.5,407.85 L236.75,407.85 L237,407.85 L237.25,407.85 L237.5,407.85 L237.75,407.85 L238,407.85 L238.25,407.85 L238.5,407.85 L238.75,407.85 L239,407.85 L239.25,407.85 L239.5,407.85 L239.75,407.85 L240,407.85 L240.25,407.85 L240.5,407.85 L240.75,407.85 L241,407.85 L241.25,407.85 L241.5,407.85 L241.75,407.85 L242,407.85 L242.25,407.85 L242.5,407.85 L242.75,407.85 L243,407.85 L243.25,407.85 L243.5,407.85 L243.75,407.85 L244,407.85 L244.25,407.85 L244.5,407.85 L244.75,407.85 L245,407.85 L245.25,407.85 L245.5,407.85 L245.75,407.85 L246,407.85 L246.25,407.85 L246.5,407.85 L246.75,407.85 L247,407.85 L247.25,407.85 L247.5,407.85 L247.75,407.85 L248,407.85 L248.25,407.85 L248.5,407.85 L248.75,407.85 L249,407.85 L249.25,407.85 L249.5,407.85 L249.75,407.85 L250,407.85 L250.25,407.85 L250.5,407.85 L250.75,407.85 L251,407.85 L251.25,407.85 L251.5,407.85 L251.75,407.85 L252,407.85 L252.25,407.85 L252.5,407.85 L252.75,407.85 L253,407.85 L253.25,407.85 L253.5,407.85 L253.75,407.85 L254,407.85 L254.25,407.85 L254.5,407.85 L254.75,407.85 L255,407.85 L255.25,407.85 L255.5,407.85 L255.75,407.85 L256,407.85 L256.25,407.85 L256.5,407.85 L256.75,407.85 L257,407.85 L257.25,407.85 L257.5,407.85 L257.75,407.85 L258,407.85 L258.25,407.85 L258.5,407.85 L258.75,407.85 L259,407.85 L259.25,407.85 L259.5,407.85 L259.75,407.85 L260,407.85 L260.25,407.85 L260.5,407.85 L260.75,407.85 L261,407.85 L261.25,407.85 L261.5,407.85 L261.75,407.85 L262,407.85 L262.25,407.85 L262.5,407.85 L262.75,407.85 L263,407.85 L263.25,407.85 L263.5,407.85 L263.75,407.85 L264,407.85 L264.25,407.85 L264.5,407.85 L264.75,407.85 L265,407.85 L265.25,407.85 L265.5,407.85 L265.75,407.85 L266,407.85 L266.25,407.85 L266.5,407.85 L266.75,407.85 L267,407.85 L267.25,407.85 L267.5,407.85 L267.75,407.85 L268,407.85 L268.25,407.85 L268.5,407.85 L268.75,407.85 L269,407.85 L269.25,407.85 L269.5,407.85 L269.75,407.85 L270,407.85 L270.25,407.85 L270.5,407.85 L270.75,407.85 L271,407.85 L271.25,407.85 L271.5,407.85 L271.75,407.85 L272,407.85 L272.25,407.85 L272.5,407.85 L272.75,407.85 L273,407.85 L273.25,407.85 L273.5,407.85 L273.75,407.85 L274,407.85 L274.25,407.85 L274.5,407.85 L274.75,407.85 L275,407.85 L275.25,407.85 L275.5,407.85 L275.75,407.85 L276,407.85 L276.25,407.85 L276.5,407.85 L276.75,407.85 L277,407.85 L277.25,407.85 L277.5,407.85 L277.75,407.85 L278,407.85 L278.25,407.85 L278.5,407.85 L278.75,407.85 L279,407.85 L279.25,407.85 L279.5,407.85 L279.75,407.85 L280,407.85 L280.25,407.85 L280.5,407.85 L280.75,407.85 L281,407.85 L281.25,407.85 L281.5,407.85 L281.75,407.85 L282,407.85 L282.25,407.85 L282.5,407.85 L282.75,407.85 L283,407.85 L283.25,407.85 L283.5,407.85 L283.75,407.85 L284,407.85 L284.25,407.85 L284.5,407.85 L284.75,407.85 L285,407.85 L285.25,407.85 L285.5,407.85 L285.75,407.85 L286,407.85 L286.25,407.85 L286.5,407.85 L286.75,407.85 L287,407.85 L287.25,407.85 L287.5,407.85 L287.75,407.85 L288,407.85 L288.25,407.85 L288.5,407.85 L288.75,407.85 L289,407.85 L289.25,407.85 L289.5,407.85 L289.75,407.85 L290,407.85 L290.25,407.85 L290.5,407.85 L290.75,407.85 L291,407.85 L291.25,407.85 L291.5,407.85 L291.75,407.85 L292,407.85 L292.25,407.85 L292.5,407.85 L292.75,407.85 L293,407.85 L293.25,407.85 L293.5,407.85 L293.75,407.85 L294,407.85" fill="none" stroke="#762418" stroke-width="1.5" stroke-opacity="0.88" stroke-linejoin="round"/>
<text x="156.9" y="43.9" text-anchor="middle">6.77</text>
<text x="205.7" y="46.9" xml:space="preserve">NL: 7.00E7</text>
<text x="205.7" y="59.75" xml:space="preserve">m/z=</text>
<text x="205.7" y="72.6" xml:space="preserve">649.5167-649.5361 F:</text>
<text x="205.7" y="85.45" xml:space="preserve">FTMS + p ESI Full ms</text>
<text x="205.7" y="98.3" xml:space="preserve">[250.0000-1200.0000]</text>
<text x="205.7" y="111.15" xml:space="preserve"> MS H220_MeOH_ACN</text>
<text class="r" x="205.7" y="133.9" xml:space="preserve">NL: 7.00E7</text>
<text class="r" x="205.7" y="146.75" xml:space="preserve">m/z=</text>
<text class="r" x="205.7" y="159.6" xml:space="preserve">649.5167-649.5361 F:</text>
<text class="r" x="205.7" y="172.45" xml:space="preserve">FTMS + p ESI Full ms</text>
<text class="r" x="205.7" y="185.3" xml:space="preserve">[250.0000-1200.0000]</text>
<text class="r" x="205.7" y="198.15" xml:space="preserve"> MS 1A_MeOH_HESI</text>
<text class="L" x="420" y="14.2">B</text>
<path d="M460.4,31.85V407.85H710.45" fill="none" stroke="#262626" stroke-width="1.3"/>
<path d="M456.4,407.85H460.4M458,404.09H460.4M458,400.33H460.4M458,396.57H460.4M458,392.81H460.4M456.4,389.05H460.4M458,385.29H460.4M458,381.53H460.4M458,377.77H460.4M458,374.01H460.4M456.4,370.25H460.4M458,366.49H460.4M458,362.73H460.4M458,358.97H460.4M458,355.21H460.4M456.4,351.45H460.4M458,347.69H460.4M458,343.93H460.4M458,340.17H460.4M458,336.41H460.4M456.4,332.65H460.4M458,328.89H460.4M458,325.13H460.4M458,321.37H460.4M458,317.61H460.4M456.4,313.85H460.4M458,310.09H460.4M458,306.33H460.4M458,302.57H460.4M458,298.81H460.4M456.4,295.05H460.4M458,291.29H460.4M458,287.53H460.4M458,283.77H460.4M458,280.01H460.4M456.4,276.25H460.4M458,272.49H460.4M458,268.73H460.4M458,264.97H460.4M458,261.21H460.4M456.4,257.45H460.4M458,253.69H460.4M458,249.93H460.4M458,246.17H460.4M458,242.41H460.4M456.4,238.65H460.4M458,234.89H460.4M458,231.13H460.4M458,227.37H460.4M458,223.61H460.4M456.4,219.85H460.4M458,216.09H460.4M458,212.33H460.4M458,208.57H460.4M458,204.81H460.4M456.4,201.05H460.4M458,197.29H460.4M458,193.53H460.4M458,189.77H460.4M458,186.01H460.4M456.4,182.25H460.4M458,178.49H460.4M458,174.73H460.4M458,170.97H460.4M458,167.21H460.4M456.4,163.45H460.4M458,159.69H460.4M458,155.93H460.4M458,152.17H460.4M458,148.41H460.4M456.4,144.65H460.4M458,140.89H460.4M458,137.13H460.4M458,133.37H460.4M458,129.61H460.4M456.4,125.85H460.4M458,122.09H460.4M458,118.33H460.4M458,114.57H460.4M458,110.81H460.4M456.4,107.05H460.4M458,103.29H460.4M458,99.53H460.4M458,95.77H460.4M458,92.01H460.4M456.4,88.25H460.4M458,84.49H460.4M458,80.73H460.4M458,76.97H460.4M458,73.21H460.4M456.4,69.45H460.4M458,65.69H460.4M458,61.93H460.4M458,58.17H460.4M458,54.41H460.4M456.4,50.65H460.4M458,46.89H460.4M458,43.13H460.4M458,39.37H460.4M458,35.61H460.4M456.4,31.85H460.4M460.4,407.85V411.85M468.73,407.85V410.35M477.07,407.85V410.35M485.4,407.85V410.35M493.74,407.85V411.85M502.07,407.85V410.35M510.41,407.85V410.35M518.75,407.85V410.35M527.08,407.85V411.85M535.41,407.85V410.35M543.75,407.85V410.35M552.09,407.85V410.35M560.42,407.85V411.85M568.75,407.85V410.35M577.09,407.85V410.35M585.42,407.85V410.35M593.76,407.85V411.85M602.1,407.85V410.35M610.43,407.85V410.35M618.76,407.85V410.35M627.1,407.85V411.85M635.43,407.85V410.35M643.77,407.85V410.35M652.11,407.85V410.35M660.44,407.85V411.85M668.77,407.85V410.35M677.11,407.85V410.35M685.44,407.85V410.35M693.78,407.85V411.85M702.12,407.85V410.35M710.45,407.85V410.35" fill="none" stroke="#262626" stroke-width="1"/>
<text x="440.7" y="410.7" text-anchor="middle">0</text>
<text x="440.7" y="391.9" text-anchor="middle">5</text>
<text x="441.3" y="373.1" text-anchor="middle">10</text>
<text x="441.3" y="354.3" text-anchor="middle">15</text>
<text x="441.3" y="335.5" text-anchor="middle">20</text>
<text x="441.3" y="316.7" text-anchor="middle">25</text>
<text x="441.3" y="297.9" text-anchor="middle">30</text>
<text x="441.3" y="279.1" text-anchor="middle">35</text>
<text x="441.3" y="260.3" text-anchor="middle">40</text>
<text x="441.3" y="241.5" text-anchor="middle">45</text>
<text x="441.3" y="222.7" text-anchor="middle">50</text>
<text x="441.3" y="203.9" text-anchor="middle">55</text>
<text x="441.3" y="185.1" text-anchor="middle">60</text>
<text x="441.3" y="166.3" text-anchor="middle">65</text>
<text x="441.3" y="147.5" text-anchor="middle">70</text>
<text x="441.3" y="128.7" text-anchor="middle">75</text>
<text x="441.3" y="109.9" text-anchor="middle">80</text>
<text x="441.3" y="91.1" text-anchor="middle">85</text>
<text x="441.3" y="72.3" text-anchor="middle">90</text>
<text x="441.3" y="53.5" text-anchor="middle">95</text>
<text x="442.5" y="34.7" text-anchor="middle">100</text>
<text x="460.4" y="422.6" text-anchor="middle">0</text>
<text x="493.74" y="422.6" text-anchor="middle">2</text>
<text x="527.08" y="422.6" text-anchor="middle">4</text>
<text x="560.42" y="422.6" text-anchor="middle">6</text>
<text x="593.76" y="422.6" text-anchor="middle">8</text>
<text x="627.1" y="422.6" text-anchor="middle">10</text>
<text x="660.44" y="422.6" text-anchor="middle">12</text>
<text x="693.78" y="422.6" text-anchor="middle">14</text>
<text x="546.3" y="439.7">Time (min)</text>
<text class="ra" transform="translate(424.8,217.2) rotate(-90)" text-anchor="middle">Relative Abundance</text>
<path d="M460.4,407.85 L460.65,407.85 L460.9,407.85 L461.15,407.85 L461.4,407.85 L461.65,407.85 L461.9,407.85 L462.15,407.85 L462.4,407.85 L462.65,407.85 L462.9,407.85 L463.15,407.85 L463.4,407.85 L463.65,407.85 L463.9,407.85 L464.15,407.85 L464.4,407.85 L464.65,407.85 L464.9,407.85 L465.15,407.85 L465.4,407.85 L465.65,407.85 L465.9,407.85 L466.15,407.85 L466.4,407.85 L466.65,407.85 L466.9,407.85 L467.15,407.85 L467.4,407.85 L467.65,407.85 L467.9,407.85 L468.15,407.85 L468.4,407.85 L468.65,407.85 L468.9,407.85 L469.15,407.85 L469.4,407.85 L469.65,407.85 L469.9,407.85 L470.15,407.85 L470.4,407.85 L470.65,407.85 L470.9,407.85 L471.15,407.85 L471.4,407.85 L471.65,407.85 L471.9,407.85 L472.15,407.85 L472.4,407.85 L472.65,407.85 L472.9,407.85 L473.15,407.85 L473.4,407.85 L473.65,407.85 L473.9,407.85 L474.15,407.85 L474.4,407.85 L474.65,407.85 L474.9,407.85 L475.15,407.85 L475.4,407.85 L475.65,407.85 L475.9,407.85 L476.15,407.85 L476.4,407.85 L476.65,407.85 L476.9,407.85 L477.15,407.85 L477.4,407.85 L477.65,407.85 L477.9,407.85 L478.15,407.85 L478.4,407.85 L478.65,407.85 L478.9,407.85 L479.15,407.85 L479.4,407.85 L479.65,407.85 L479.9,407.85 L480.15,407.85 L480.4,407.85 L480.65,407.85 L480.9,407.85 L481.15,407.85 L481.4,407.85 L481.65,407.85 L481.9,407.85 L482.15,407.85 L482.4,407.85 L482.65,407.85 L482.9,407.85 L483.15,407.85 L483.4,407.85 L483.65,407.85 L483.9,407.85 L484.15,407.85 L484.4,407.85 L484.65,407.85 L484.9,407.85 L485.15,407.85 L485.4,407.85 L485.65,407.85 L485.9,407.85 L486.15,407.85 L486.4,407.85 L486.65,407.85 L486.9,407.85 L487.15,407.85 L487.4,407.85 L487.65,407.85 L487.9,407.85 L488.15,407.85 L488.4,407.85 L488.65,407.85 L488.9,407.85 L489.15,407.85 L489.4,407.85 L489.65,407.85 L489.9,407.85 L490.15,407.85 L490.4,407.85 L490.65,407.85 L490.9,407.85 L491.15,407.85 L491.4,407.85 L491.65,407.85 L491.9,407.85 L492.15,407.85 L492.4,407.85 L492.65,407.85 L492.9,407.85 L493.15,407.85 L493.4,407.85 L493.65,407.85 L493.9,407.85 L494.15,407.85 L494.4,407.85 L494.65,407.85 L494.9,407.85 L495.15,407.85 L495.4,407.85 L495.65,407.85 L495.9,407.85 L496.15,407.85 L496.4,407.85 L496.65,407.85 L496.9,407.85 L497.15,407.85 L497.4,407.85 L497.65,407.85 L497.9,407.85 L498.15,407.85 L498.4,407.85 L498.65,407.85 L498.9,407.85 L499.15,407.85 L499.4,407.85 L499.65,407.85 L499.9,407.85 L500.15,407.85 L500.4,407.85 L500.65,407.85 L500.9,407.85 L501.15,407.85 L501.4,407.85 L501.65,407.85 L501.9,407.85 L502.15,407.85 L502.4,407.85 L502.65,407.85 L502.9,407.85 L503.15,407.85 L503.4,407.85 L503.65,407.85 L503.9,407.85 L504.15,407.85 L504.4,407.85 L504.65,407.85 L504.9,407.85 L505.15,407.85 L505.4,407.85 L505.65,407.85 L505.9,407.85 L506.15,407.85 L506.4,407.85 L506.65,407.85 L506.9,407.85 L507.15,407.85 L507.4,407.85 L507.65,407.85 L507.9,407.85 L508.15,407.85 L508.4,407.85 L508.65,407.85 L508.9,407.85 L509.15,407.85 L509.4,407.85 L509.65,407.85 L509.9,407.85 L510.15,407.85 L510.4,407.85 L510.65,407.85 L510.9,407.85 L511.15,407.85 L511.4,407.85 L511.65,407.85 L511.9,407.85 L512.15,407.85 L512.4,407.85 L512.65,407.85 L512.9,407.85 L513.15,407.85 L513.4,407.85 L513.65,407.85 L513.9,407.85 L514.15,407.85 L514.4,407.85 L514.65,407.85 L514.9,407.85 L515.15,407.85 L515.4,407.85 L515.65,407.85 L515.9,407.85 L516.15,407.85 L516.4,407.85 L516.65,407.85 L516.9,407.85 L517.15,407.85 L517.4,407.85 L517.65,407.85 L517.9,407.85 L518.15,407.85 L518.4,407.85 L518.65,407.85 L518.9,407.85 L519.15,407.85 L519.4,407.85 L519.65,407.85 L519.9,407.85 L520.15,407.85 L520.4,407.85 L520.65,407.85 L520.9,407.85 L521.15,407.85 L521.4,407.85 L521.65,407.85 L521.9,407.85 L522.15,407.85 L522.4,407.85 L522.65,407.85 L522.9,407.85 L523.15,407.85 L523.4,407.85 L523.65,407.85 L523.9,407.85 L524.15,407.85 L524.4,407.85 L524.65,407.85 L524.9,407.85 L525.15,407.85 L525.4,407.85 L525.65,407.85 L525.9,407.85 L526.15,407.85 L526.4,407.85 L526.65,407.85 L526.9,407.85 L527.15,407.85 L527.4,407.85 L527.65,407.85 L527.9,407.85 L528.15,407.85 L528.4,407.85 L528.65,407.85 L528.9,407.85 L529.15,407.85 L529.4,407.85 L529.65,407.85 L529.9,407.85 L530.15,407.85 L530.4,407.85 L530.65,407.85 L530.9,407.85 L531.15,407.85 L531.4,407.85 L531.65,407.85 L531.9,407.85 L532.15,407.85 L532.4,407.85 L532.65,407.85 L532.9,407.85 L533.15,407.85 L533.4,407.85 L533.65,407.85 L533.9,407.85 L534.15,407.85 L534.4,407.85 L534.65,407.85 L534.9,407.85 L535.15,407.85 L535.4,407.85 L535.65,407.85 L535.9,407.85 L536.15,407.85 L536.4,407.85 L536.65,407.85 L536.9,407.85 L537.15,407.85 L537.4,407.85 L537.65,407.85 L537.9,407.85 L538.15,407.85 L538.4,407.85 L538.65,407.85 L538.9,407.85 L539.15,407.85 L539.4,407.85 L539.65,407.85 L539.9,407.85 L540.15,407.85 L540.4,407.85 L540.65,407.85 L540.9,407.85 L541.15,407.85 L541.4,407.85 L541.65,407.85 L541.9,407.85 L542.15,407.85 L542.4,407.85 L542.65,407.85 L542.9,407.85 L543.15,407.85 L543.4,407.85 L543.65,407.85 L543.9,407.85 L544.15,407.85 L544.4,407.85 L544.65,407.85 L544.9,407.85 L545.15,407.85 L545.4,407.85 L545.65,407.85 L545.9,407.85 L546.15,407.85 L546.4,407.85 L546.65,407.85 L546.9,407.85 L547.15,407.85 L547.4,407.85 L547.65,407.85 L547.9,407.85 L548.15,407.85 L548.4,407.85 L548.65,407.85 L548.9,407.85 L549.15,407.85 L549.4,407.85 L549.65,407.85 L549.9,407.85 L550.15,407.85 L550.4,407.85 L550.65,407.85 L550.9,407.85 L551.15,407.85 L551.4,407.85 L551.65,407.85 L551.9,407.85 L552.15,407.85 L552.4,407.85 L552.65,407.85 L552.9,407.85 L553.15,407.85 L553.4,407.85 L553.65,407.85 L553.9,407.85 L554.15,407.85 L554.4,407.85 L554.65,407.85 L554.9,407.85 L555.15,407.85 L555.4,407.85 L555.65,407.85 L555.9,407.85 L556.15,407.85 L556.4,407.85 L556.65,407.85 L556.9,407.85 L557.15,407.85 L557.4,407.85 L557.65,407.85 L557.9,407.85 L558.15,407.85 L558.4,407.85 L558.65,407.85 L558.9,407.85 L559.15,407.85 L559.4,407.85 L559.65,407.85 L559.9,407.85 L560.15,407.85 L560.4,407.85 L560.65,407.85 L560.9,407.85 L561.15,407.85 L561.4,407.85 L561.65,407.85 L561.9,407.85 L562.15,407.85 L562.4,407.85 L562.65,407.85 L562.9,407.85 L563.15,407.85 L563.4,407.85 L563.65,407.85 L563.9,407.85 L564.15,407.85 L564.4,407.85 L564.65,407.85 L564.9,407.85 L565.15,407.85 L565.4,407.85 L565.65,407.85 L565.9,407.85 L566.15,407.85 L566.4,407.85 L566.65,407.85 L566.9,407.85 L567.15,407.85 L567.4,407.85 L567.65,407.85 L567.9,407.85 L568.15,407.85 L568.4,407.85 L568.65,407.85 L568.9,407.85 L569.15,407.85 L569.4,407.85 L569.65,407.85 L569.9,407.85 L570.15,407.85 L570.4,407.85 L570.65,407.85 L570.9,407.85 L571.15,407.85 L571.4,407.85 L571.65,407.85 L571.9,407.85 L572.15,407.85 L572.4,407.85 L572.65,407.85 L572.9,407.85 L573.15,407.85 L573.4,407.85 L573.65,407.85 L573.9,407.85 L574.15,407.85 L574.4,407.85 L574.65,407.85 L574.9,407.85 L575.15,407.85 L575.4,407.85 L575.65,407.85 L575.9,407.85 L576.15,407.85 L576.4,407.85 L576.65,407.85 L576.9,407.85 L577.15,407.85 L577.4,407.85 L577.65,407.85 L577.9,407.85 L578.15,407.85 L578.4,407.85 L578.65,407.85 L578.9,407.85 L579.15,407.85 L579.4,407.85 L579.65,407.85 L579.9,407.85 L580.15,407.85 L580.4,407.85 L580.65,407.85 L580.9,407.85 L581.15,407.85 L581.4,407.85 L581.65,407.85 L581.9,407.85 L582.15,407.85 L582.4,407.85 L582.65,407.85 L582.9,407.85 L583.15,407.85 L583.4,407.85 L583.65,407.85 L583.9,407.85 L584.15,407.85 L584.4,407.85 L584.65,407.85 L584.9,407.85 L585.15,407.85 L585.4,407.85 L585.65,407.85 L585.9,407.85 L586.15,407.85 L586.4,407.85 L586.65,407.85 L586.9,407.85 L587.15,407.85 L587.4,407.85 L587.65,407.85 L587.9,407.85 L588.15,407.85 L588.4,407.85 L588.65,407.85 L588.9,407.85 L589.15,407.85 L589.4,407.85 L589.65,407.85 L589.9,407.85 L590.15,407.85 L590.4,407.85 L590.65,407.85 L590.9,407.85 L591.15,407.85 L591.4,407.85 L591.65,407.85 L591.9,407.85 L592.15,407.85 L592.4,407.85 L592.65,407.85 L592.9,407.85 L593.15,407.85 L593.4,407.85 L593.65,407.85 L593.9,407.85 L594.15,407.85 L594.4,407.85 L594.65,407.85 L594.9,407.85 L595.15,407.85 L595.4,407.85 L595.65,407.85 L595.9,407.85 L596.15,407.85 L596.4,407.85 L596.65,407.85 L596.9,407.84 L597.15,407.82 L597.4,407.76 L597.65,407.64 L597.9,407.39 L598.15,406.91 L598.4,406.08 L598.65,404.77 L598.9,402.86 L599.15,400.29 L599.4,397.1 L599.65,393.43 L599.9,389.53 L600.15,385.7 L600.4,382.22 L600.65,379.33 L600.9,377.18 L601.15,375.77 L601.4,375.03 L601.65,374.78 L601.9,374.8 L602.15,375.26 L602.4,376.2 L602.65,377.58 L602.9,379.34 L603.15,381.39 L603.4,383.65 L603.65,386.03 L603.9,388.44 L604.15,390.8 L604.4,393.06 L604.65,395.16 L604.9,397.07 L605.15,398.77 L605.4,400.25 L605.65,401.53 L605.9,402.61 L606.15,403.51 L606.4,404.26 L606.65,404.87 L606.9,405.37 L607.15,405.77 L607.4,406.1 L607.65,406.38 L607.9,406.6 L608.15,406.79 L608.4,406.94 L608.65,407.08 L608.9,407.19 L609.15,407.29 L609.4,407.37 L609.65,407.44 L609.9,407.51 L610.15,407.56 L610.4,407.61 L610.65,407.65 L610.9,407.68 L611.15,407.71 L611.4,407.73 L611.65,407.76 L611.9,407.77 L612.15,407.79 L612.4,407.8 L612.65,407.81 L612.9,407.82 L613.15,407.82 L613.4,407.83 L613.65,407.83 L613.9,407.84 L614.15,407.84 L614.4,407.84 L614.65,407.84 L614.9,407.85 L615.15,407.85 L615.4,407.85 L615.65,407.85 L615.9,407.85 L616.15,407.85 L616.4,407.85 L616.65,407.85 L616.9,407.85 L617.15,407.85 L617.4,407.85 L617.65,407.85 L617.9,407.85 L618.15,407.85 L618.4,407.85 L618.65,407.85 L618.9,407.85 L619.15,407.85 L619.4,407.85 L619.65,407.85 L619.9,407.85 L620.15,407.85 L620.4,407.85 L620.65,407.85 L620.9,407.85 L621.15,407.85 L621.4,407.85 L621.65,407.85 L621.9,407.85 L622.15,407.85 L622.4,407.85 L622.65,407.85 L622.9,407.85 L623.15,407.85 L623.4,407.85 L623.65,407.85 L623.9,407.85 L624.15,407.85 L624.4,407.85 L624.65,407.85 L624.9,407.85 L625.15,407.85 L625.4,407.85 L625.65,407.85 L625.9,407.85 L626.15,407.85 L626.4,407.85 L626.65,407.85 L626.9,407.85 L627.15,407.85 L627.4,407.85 L627.65,407.85 L627.9,407.85 L628.15,407.85 L628.4,407.85 L628.65,407.85 L628.9,407.85 L629.15,407.85 L629.4,407.85 L629.65,407.85 L629.9,407.85 L630.15,407.85 L630.4,407.85 L630.65,407.85 L630.9,407.85 L631.15,407.85 L631.4,407.85 L631.65,407.85 L631.9,407.85 L632.15,407.85 L632.4,407.85 L632.65,407.85 L632.9,407.85 L633.15,407.85 L633.4,407.85 L633.65,407.85 L633.9,407.85 L634.15,407.85 L634.4,407.85 L634.65,407.85 L634.9,407.85 L635.15,407.85 L635.4,407.85 L635.65,407.85 L635.9,407.85 L636.15,407.85 L636.4,407.85 L636.65,407.85 L636.9,407.85 L637.15,407.85 L637.4,407.85 L637.65,407.85 L637.9,407.85 L638.15,407.85 L638.4,407.85 L638.65,407.85 L638.9,407.85 L639.15,407.85 L639.4,407.85 L639.65,407.85 L639.9,407.85 L640.15,407.85 L640.4,407.85 L640.65,407.85 L640.9,407.85 L641.15,407.85 L641.4,407.85 L641.65,407.85 L641.9,407.85 L642.15,407.85 L642.4,407.85 L642.65,407.85 L642.9,407.85 L643.15,407.85 L643.4,407.85 L643.65,407.85 L643.9,407.85 L644.15,407.85 L644.4,407.85 L644.65,407.85 L644.9,407.85 L645.15,407.85 L645.4,407.85 L645.65,407.85 L645.9,407.85 L646.15,407.85 L646.4,407.85 L646.65,407.85 L646.9,407.85 L647.15,407.85 L647.4,407.85 L647.65,407.85 L647.9,407.85 L648.15,407.85 L648.4,407.85 L648.65,407.85 L648.9,407.85 L649.15,407.85 L649.4,407.85 L649.65,407.85 L649.9,407.85 L650.15,407.85 L650.4,407.85 L650.65,407.85 L650.9,407.85 L651.15,407.85 L651.4,407.85 L651.65,407.85 L651.9,407.85 L652.15,407.85 L652.4,407.85 L652.65,407.85 L652.9,407.85 L653.15,407.85 L653.4,407.85 L653.65,407.85 L653.9,407.85 L654.15,407.85 L654.4,407.85 L654.65,407.85 L654.9,407.85 L655.15,407.85 L655.4,407.85 L655.65,407.85 L655.9,407.85 L656.15,407.85 L656.4,407.85 L656.65,407.85 L656.9,407.85 L657.15,407.85 L657.4,407.85 L657.65,407.85 L657.9,407.85 L658.15,407.85 L658.4,407.85 L658.65,407.85 L658.9,407.85 L659.15,407.85 L659.4,407.85 L659.65,407.85 L659.9,407.85 L660.15,407.85 L660.4,407.85 L660.65,407.85 L660.9,407.85 L661.15,407.85 L661.4,407.85 L661.65,407.85 L661.9,407.85 L662.15,407.85 L662.4,407.85 L662.65,407.85 L662.9,407.85 L663.15,407.85 L663.4,407.85 L663.65,407.85 L663.9,407.85 L664.15,407.85 L664.4,407.85 L664.65,407.85 L664.9,407.85 L665.15,407.85 L665.4,407.85 L665.65,407.85 L665.9,407.85 L666.15,407.85 L666.4,407.85 L666.65,407.85 L666.9,407.85 L667.15,407.85 L667.4,407.85 L667.65,407.85 L667.9,407.85 L668.15,407.85 L668.4,407.85 L668.65,407.85 L668.9,407.85 L669.15,407.85 L669.4,407.85 L669.65,407.85 L669.9,407.85 L670.15,407.85 L670.4,407.85 L670.65,407.85 L670.9,407.85 L671.15,407.85 L671.4,407.85 L671.65,407.85 L671.9,407.85 L672.15,407.85 L672.4,407.85 L672.65,407.85 L672.9,407.85 L673.15,407.85 L673.4,407.85 L673.65,407.85 L673.9,407.85 L674.15,407.85 L674.4,407.85 L674.65,407.85 L674.9,407.85 L675.15,407.85 L675.4,407.85 L675.65,407.85 L675.9,407.85 L676.15,407.85 L676.4,407.85 L676.65,407.85 L676.9,407.85 L677.15,407.85 L677.4,407.85 L677.65,407.85 L677.9,407.85 L678.15,407.85 L678.4,407.85 L678.65,407.85 L678.9,407.85 L679.15,407.85 L679.4,407.85 L679.65,407.85 L679.9,407.85 L680.15,407.85 L680.4,407.85 L680.65,407.85 L680.9,407.85 L681.15,407.85 L681.4,407.85 L681.65,407.85 L681.9,407.85 L682.15,407.85 L682.4,407.85 L682.65,407.85 L682.9,407.85 L683.15,407.85 L683.4,407.85 L683.65,407.85 L683.9,407.85 L684.15,407.85 L684.4,407.85 L684.65,407.85 L684.9,407.85 L685.15,407.85 L685.4,407.85 L685.65,407.85 L685.9,407.85 L686.15,407.85 L686.4,407.85 L686.65,407.85 L686.9,407.85 L687.15,407.85 L687.4,407.85 L687.65,407.85 L687.9,407.85 L688.15,407.85 L688.4,407.85 L688.65,407.85 L688.9,407.85 L689.15,407.85 L689.4,407.85 L689.65,407.85 L689.9,407.85 L690.15,407.85 L690.4,407.85 L690.65,407.85 L690.9,407.85 L691.15,407.85 L691.4,407.85 L691.65,407.85 L691.9,407.85 L692.15,407.85 L692.4,407.85 L692.65,407.85 L692.9,407.85 L693.15,407.85 L693.4,407.85 L693.65,407.85 L693.9,407.85 L694.15,407.85 L694.4,407.85 L694.65,407.85 L694.9,407.85 L695.15,407.85 L695.4,407.85 L695.65,407.85 L695.9,407.85 L696.15,407.85 L696.4,407.85 L696.65,407.85 L696.9,407.85 L697.15,407.85 L697.4,407.85 L697.65,407.85 L697.9,407.85 L698.15,407.85 L698.4,407.85 L698.65,407.85 L698.9,407.85 L699.15,407.85 L699.4,407.85 L699.65,407.85 L699.9,407.85 L700.15,407.85 L700.4,407.85 L700.65,407.85 L700.9,407.85 L701.15,407.85 L701.4,407.85 L701.65,407.85 L701.9,407.85 L702.15,407.85 L702.4,407.85 L702.65,407.85 L702.9,407.85 L703.15,407.85 L703.4,407.85 L703.65,407.85 L703.9,407.85 L704.15,407.85 L704.4,407.85 L704.65,407.85 L704.9,407.85 L705.15,407.85 L705.4,407.85 L705.65,407.85 L705.9,407.85 L706.15,407.85 L706.4,407.85 L706.65,407.85 L706.9,407.85 L707.15,407.85 L707.4,407.85 L707.65,407.85 L707.9,407.85 L708.15,407.85 L708.4,407.85 L708.65,407.85 L708.9,407.85 L709.15,407.85 L709.4,407.85 L709.65,407.85 L709.9,407.85 L710.15,407.85 L710.4,407.85" fill="none" stroke="#3a3a3a" stroke-width="1.1" stroke-linejoin="round"/>
<path d="M460.4,407.85 L460.65,407.85 L460.9,407.85 L461.15,407.85 L461.4,407.85 L461.65,407.85 L461.9,407.85 L462.15,407.85 L462.4,407.85 L462.65,407.85 L462.9,407.85 L463.15,407.85 L463.4,407.85 L463.65,407.85 L463.9,407.85 L464.15,407.85 L464.4,407.85 L464.65,407.85 L464.9,407.85 L465.15,407.85 L465.4,407.85 L465.65,407.85 L465.9,407.85 L466.15,407.85 L466.4,407.85 L466.65,407.85 L466.9,407.85 L467.15,407.85 L467.4,407.85 L467.65,407.85 L467.9,407.85 L468.15,407.85 L468.4,407.85 L468.65,407.85 L468.9,407.85 L469.15,407.85 L469.4,407.85 L469.65,407.85 L469.9,407.85 L470.15,407.85 L470.4,407.85 L470.65,407.85 L470.9,407.85 L471.15,407.85 L471.4,407.85 L471.65,407.85 L471.9,407.85 L472.15,407.85 L472.4,407.85 L472.65,407.85 L472.9,407.85 L473.15,407.85 L473.4,407.85 L473.65,407.85 L473.9,407.85 L474.15,407.85 L474.4,407.85 L474.65,407.85 L474.9,407.85 L475.15,407.85 L475.4,407.85 L475.65,407.85 L475.9,407.85 L476.15,407.85 L476.4,407.85 L476.65,407.85 L476.9,407.85 L477.15,407.85 L477.4,407.85 L477.65,407.85 L477.9,407.85 L478.15,407.85 L478.4,407.85 L478.65,407.85 L478.9,407.85 L479.15,407.85 L479.4,407.85 L479.65,407.85 L479.9,407.85 L480.15,407.85 L480.4,407.85 L480.65,407.85 L480.9,407.85 L481.15,407.85 L481.4,407.85 L481.65,407.85 L481.9,407.85 L482.15,407.85 L482.4,407.85 L482.65,407.85 L482.9,407.85 L483.15,407.85 L483.4,407.85 L483.65,407.85 L483.9,407.85 L484.15,407.85 L484.4,407.85 L484.65,407.85 L484.9,407.85 L485.15,407.85 L485.4,407.85 L485.65,407.85 L485.9,407.85 L486.15,407.85 L486.4,407.85 L486.65,407.85 L486.9,407.85 L487.15,407.85 L487.4,407.85 L487.65,407.85 L487.9,407.85 L488.15,407.85 L488.4,407.85 L488.65,407.85 L488.9,407.85 L489.15,407.85 L489.4,407.85 L489.65,407.85 L489.9,407.85 L490.15,407.85 L490.4,407.85 L490.65,407.85 L490.9,407.85 L491.15,407.85 L491.4,407.85 L491.65,407.85 L491.9,407.85 L492.15,407.85 L492.4,407.85 L492.65,407.85 L492.9,407.85 L493.15,407.85 L493.4,407.85 L493.65,407.85 L493.9,407.85 L494.15,407.85 L494.4,407.85 L494.65,407.85 L494.9,407.85 L495.15,407.85 L495.4,407.85 L495.65,407.85 L495.9,407.85 L496.15,407.85 L496.4,407.85 L496.65,407.85 L496.9,407.85 L497.15,407.85 L497.4,407.85 L497.65,407.85 L497.9,407.85 L498.15,407.85 L498.4,407.85 L498.65,407.85 L498.9,407.85 L499.15,407.85 L499.4,407.85 L499.65,407.85 L499.9,407.85 L500.15,407.85 L500.4,407.85 L500.65,407.85 L500.9,407.85 L501.15,407.85 L501.4,407.85 L501.65,407.85 L501.9,407.85 L502.15,407.85 L502.4,407.85 L502.65,407.85 L502.9,407.85 L503.15,407.85 L503.4,407.85 L503.65,407.85 L503.9,407.85 L504.15,407.85 L504.4,407.85 L504.65,407.85 L504.9,407.85 L505.15,407.85 L505.4,407.85 L505.65,407.85 L505.9,407.85 L506.15,407.85 L506.4,407.85 L506.65,407.85 L506.9,407.85 L507.15,407.85 L507.4,407.85 L507.65,407.85 L507.9,407.85 L508.15,407.85 L508.4,407.85 L508.65,407.85 L508.9,407.85 L509.15,407.85 L509.4,407.85 L509.65,407.85 L509.9,407.85 L510.15,407.85 L510.4,407.85 L510.65,407.85 L510.9,407.85 L511.15,407.85 L511.4,407.85 L511.65,407.85 L511.9,407.85 L512.15,407.85 L512.4,407.85 L512.65,407.85 L512.9,407.85 L513.15,407.85 L513.4,407.85 L513.65,407.85 L513.9,407.85 L514.15,407.85 L514.4,407.85 L514.65,407.85 L514.9,407.85 L515.15,407.85 L515.4,407.85 L515.65,407.85 L515.9,407.85 L516.15,407.85 L516.4,407.85 L516.65,407.85 L516.9,407.85 L517.15,407.85 L517.4,407.85 L517.65,407.85 L517.9,407.85 L518.15,407.85 L518.4,407.85 L518.65,407.85 L518.9,407.85 L519.15,407.85 L519.4,407.85 L519.65,407.85 L519.9,407.85 L520.15,407.85 L520.4,407.85 L520.65,407.85 L520.9,407.85 L521.15,407.85 L521.4,407.85 L521.65,407.85 L521.9,407.85 L522.15,407.85 L522.4,407.85 L522.65,407.85 L522.9,407.85 L523.15,407.85 L523.4,407.85 L523.65,407.85 L523.9,407.85 L524.15,407.85 L524.4,407.85 L524.65,407.85 L524.9,407.85 L525.15,407.85 L525.4,407.85 L525.65,407.85 L525.9,407.85 L526.15,407.85 L526.4,407.85 L526.65,407.85 L526.9,407.85 L527.15,407.85 L527.4,407.85 L527.65,407.85 L527.9,407.85 L528.15,407.85 L528.4,407.85 L528.65,407.85 L528.9,407.85 L529.15,407.85 L529.4,407.85 L529.65,407.85 L529.9,407.85 L530.15,407.85 L530.4,407.85 L530.65,407.85 L530.9,407.85 L531.15,407.85 L531.4,407.85 L531.65,407.85 L531.9,407.85 L532.15,407.85 L532.4,407.85 L532.65,407.85 L532.9,407.85 L533.15,407.85 L533.4,407.85 L533.65,407.85 L533.9,407.85 L534.15,407.85 L534.4,407.85 L534.65,407.85 L534.9,407.85 L535.15,407.85 L535.4,407.85 L535.65,407.85 L535.9,407.85 L536.15,407.85 L536.4,407.85 L536.65,407.85 L536.9,407.85 L537.15,407.85 L537.4,407.85 L537.65,407.85 L537.9,407.85 L538.15,407.85 L538.4,407.85 L538.65,407.85 L538.9,407.85 L539.15,407.85 L539.4,407.85 L539.65,407.85 L539.9,407.85 L540.15,407.85 L540.4,407.85 L540.65,407.85 L540.9,407.85 L541.15,407.85 L541.4,407.85 L541.65,407.85 L541.9,407.85 L542.15,407.85 L542.4,407.85 L542.65,407.85 L542.9,407.85 L543.15,407.85 L543.4,407.85 L543.65,407.85 L543.9,407.85 L544.15,407.85 L544.4,407.85 L544.65,407.85 L544.9,407.85 L545.15,407.85 L545.4,407.85 L545.65,407.85 L545.9,407.85 L546.15,407.85 L546.4,407.85 L546.65,407.85 L546.9,407.85 L547.15,407.85 L547.4,407.85 L547.65,407.85 L547.9,407.85 L548.15,407.85 L548.4,407.85 L548.65,407.85 L548.9,407.85 L549.15,407.85 L549.4,407.85 L549.65,407.85 L549.9,407.85 L550.15,407.85 L550.4,407.85 L550.65,407.85 L550.9,407.85 L551.15,407.85 L551.4,407.85 L551.65,407.85 L551.9,407.85 L552.15,407.85 L552.4,407.85 L552.65,407.85 L552.9,407.85 L553.15,407.85 L553.4,407.85 L553.65,407.85 L553.9,407.85 L554.15,407.85 L554.4,407.85 L554.65,407.85 L554.9,407.85 L555.15,407.85 L555.4,407.85 L555.65,407.85 L555.9,407.85 L556.15,407.85 L556.4,407.85 L556.65,407.85 L556.9,407.85 L557.15,407.85 L557.4,407.85 L557.65,407.85 L557.9,407.85 L558.15,407.85 L558.4,407.85 L558.65,407.85 L558.9,407.85 L559.15,407.85 L559.4,407.85 L559.65,407.85 L559.9,407.85 L560.15,407.85 L560.4,407.85 L560.65,407.85 L560.9,407.85 L561.15,407.85 L561.4,407.85 L561.65,407.85 L561.9,407.85 L562.15,407.85 L562.4,407.85 L562.65,407.85 L562.9,407.85 L563.15,407.85 L563.4,407.85 L563.65,407.85 L563.9,407.85 L564.15,407.85 L564.4,407.85 L564.65,407.85 L564.9,407.85 L565.15,407.85 L565.4,407.85 L565.65,407.85 L565.9,407.85 L566.15,407.85 L566.4,407.85 L566.65,407.85 L566.9,407.85 L567.15,407.85 L567.4,407.85 L567.65,407.85 L567.9,407.85 L568.15,407.85 L568.4,407.85 L568.65,407.85 L568.9,407.85 L569.15,407.85 L569.4,407.85 L569.65,407.85 L569.9,407.85 L570.15,407.85 L570.4,407.85 L570.65,407.85 L570.9,407.85 L571.15,407.85 L571.4,407.85 L571.65,407.85 L571.9,407.85 L572.15,407.85 L572.4,407.85 L572.65,407.85 L572.9,407.85 L573.15,407.85 L573.4,407.85 L573.65,407.85 L573.9,407.85 L574.15,407.85 L574.4,407.85 L574.65,407.85 L574.9,407.85 L575.15,407.85 L575.4,407.85 L575.65,407.85 L575.9,407.85 L576.15,407.85 L576.4,407.85 L576.65,407.85 L576.9,407.85 L577.15,407.85 L577.4,407.85 L577.65,407.85 L577.9,407.85 L578.15,407.85 L578.4,407.85 L578.65,407.85 L578.9,407.85 L579.15,407.85 L579.4,407.85 L579.65,407.85 L579.9,407.85 L580.15,407.85 L580.4,407.85 L580.65,407.85 L580.9,407.85 L581.15,407.85 L581.4,407.85 L581.65,407.85 L581.9,407.85 L582.15,407.85 L582.4,407.85 L582.65,407.85 L582.9,407.85 L583.15,407.85 L583.4,407.85 L583.65,407.85 L583.9,407.85 L584.15,407.85 L584.4,407.85 L584.65,407.85 L584.9,407.85 L585.15,407.85 L585.4,407.85 L585.65,407.85 L585.9,407.85 L586.15,407.85 L586.4,407.85 L586.65,407.85 L586.9,407.85 L587.15,407.85 L587.4,407.85 L587.65,407.85 L587.9,407.85 L588.15,407.85 L588.4,407.85 L588.65,407.85 L588.9,407.85 L589.15,407.85 L589.4,407.85 L589.65,407.85 L589.9,407.85 L590.15,407.85 L590.4,407.85 L590.65,407.85 L590.9,407.85 L591.15,407.85 L591.4,407.85 L591.65,407.85 L591.9,407.85 L592.15,407.85 L592.4,407.85 L592.65,407.85 L592.9,407.85 L593.15,407.85 L593.4,407.85 L593.65,407.85 L593.9,407.85 L594.15,407.85 L594.4,407.85 L594.65,407.85 L594.9,407.85 L595.15,407.85 L595.4,407.85 L595.65,407.85 L595.9,407.85 L596.15,407.85 L596.4,407.85 L596.65,407.84 L596.9,407.8 L597.15,407.71 L597.4,407.44 L597.65,406.78 L597.9,405.3 L598.15,402.29 L598.4,396.71 L598.65,387.24 L598.9,372.47 L599.15,351.29 L599.4,323.28 L599.65,289.03 L599.9,250.27 L600.15,209.69 L600.4,170.4 L600.65,135.38 L600.9,106.88 L601.15,86.08 L601.4,72.98 L601.65,66.49 L601.9,64.62 L602.15,65.52 L602.4,71.29 L602.65,82.03 L602.9,97.2 L603.15,116.11 L603.4,137.89 L603.65,161.64 L603.9,186.43 L604.15,211.39 L604.4,235.74 L604.65,258.87 L604.9,280.28 L605.15,299.68 L605.4,316.88 L605.65,331.85 L605.9,344.68 L606.15,355.49 L606.4,364.51 L606.65,371.94 L606.9,378.03 L607.15,383 L607.4,387.05 L607.65,390.35 L607.9,393.06 L608.15,395.3 L608.4,397.17 L608.65,398.74 L608.9,400.08 L609.15,401.21 L609.4,402.19 L609.65,403.04 L609.9,403.77 L610.15,404.4 L610.4,404.94 L610.65,405.41 L610.9,405.81 L611.15,406.16 L611.4,406.45 L611.65,406.7 L611.9,406.91 L612.15,407.08 L612.4,407.23 L612.65,407.35 L612.9,407.45 L613.15,407.53 L613.4,407.59 L613.65,407.65 L613.9,407.69 L614.15,407.73 L614.4,407.75 L614.65,407.77 L614.9,407.79 L615.15,407.81 L615.4,407.82 L615.65,407.82 L615.9,407.83 L616.15,407.84 L616.4,407.84 L616.65,407.84 L616.9,407.84 L617.15,407.85 L617.4,407.85 L617.65,407.85 L617.9,407.85 L618.15,407.85 L618.4,407.85 L618.65,407.85 L618.9,407.85 L619.15,407.85 L619.4,407.85 L619.65,407.85 L619.9,407.85 L620.15,407.85 L620.4,407.85 L620.65,407.85 L620.9,407.85 L621.15,407.85 L621.4,407.85 L621.65,407.85 L621.9,407.85 L622.15,407.85 L622.4,407.85 L622.65,407.85 L622.9,407.85 L623.15,407.85 L623.4,407.85 L623.65,407.85 L623.9,407.85 L624.15,407.85 L624.4,407.85 L624.65,407.85 L624.9,407.85 L625.15,407.85 L625.4,407.85 L625.65,407.85 L625.9,407.85 L626.15,407.85 L626.4,407.85 L626.65,407.85 L626.9,407.85 L627.15,407.85 L627.4,407.85 L627.65,407.85 L627.9,407.85 L628.15,407.85 L628.4,407.85 L628.65,407.85 L628.9,407.85 L629.15,407.85 L629.4,407.85 L629.65,407.85 L629.9,407.85 L630.15,407.85 L630.4,407.85 L630.65,407.85 L630.9,407.85 L631.15,407.85 L631.4,407.85 L631.65,407.85 L631.9,407.85 L632.15,407.85 L632.4,407.85 L632.65,407.85 L632.9,407.85 L633.15,407.85 L633.4,407.85 L633.65,407.85 L633.9,407.85 L634.15,407.85 L634.4,407.85 L634.65,407.85 L634.9,407.85 L635.15,407.85 L635.4,407.85 L635.65,407.85 L635.9,407.85 L636.15,407.85 L636.4,407.85 L636.65,407.85 L636.9,407.85 L637.15,407.85 L637.4,407.85 L637.65,407.85 L637.9,407.85 L638.15,407.85 L638.4,407.85 L638.65,407.85 L638.9,407.85 L639.15,407.85 L639.4,407.85 L639.65,407.85 L639.9,407.85 L640.15,407.85 L640.4,407.85 L640.65,407.85 L640.9,407.85 L641.15,407.85 L641.4,407.85 L641.65,407.85 L641.9,407.85 L642.15,407.85 L642.4,407.85 L642.65,407.85 L642.9,407.85 L643.15,407.85 L643.4,407.85 L643.65,407.85 L643.9,407.85 L644.15,407.85 L644.4,407.85 L644.65,407.85 L644.9,407.85 L645.15,407.85 L645.4,407.85 L645.65,407.85 L645.9,407.85 L646.15,407.85 L646.4,407.85 L646.65,407.85 L646.9,407.85 L647.15,407.85 L647.4,407.85 L647.65,407.85 L647.9,407.85 L648.15,407.85 L648.4,407.85 L648.65,407.85 L648.9,407.85 L649.15,407.85 L649.4,407.85 L649.65,407.85 L649.9,407.85 L650.15,407.85 L650.4,407.85 L650.65,407.85 L650.9,407.85 L651.15,407.85 L651.4,407.85 L651.65,407.85 L651.9,407.85 L652.15,407.85 L652.4,407.85 L652.65,407.85 L652.9,407.85 L653.15,407.85 L653.4,407.85 L653.65,407.85 L653.9,407.85 L654.15,407.85 L654.4,407.85 L654.65,407.85 L654.9,407.85 L655.15,407.85 L655.4,407.85 L655.65,407.85 L655.9,407.85 L656.15,407.85 L656.4,407.85 L656.65,407.85 L656.9,407.85 L657.15,407.85 L657.4,407.85 L657.65,407.85 L657.9,407.85 L658.15,407.85 L658.4,407.85 L658.65,407.85 L658.9,407.85 L659.15,407.85 L659.4,407.85 L659.65,407.85 L659.9,407.85 L660.15,407.85 L660.4,407.85 L660.65,407.85 L660.9,407.85 L661.15,407.85 L661.4,407.85 L661.65,407.85 L661.9,407.85 L662.15,407.85 L662.4,407.85 L662.65,407.85 L662.9,407.85 L663.15,407.85 L663.4,407.85 L663.65,407.85 L663.9,407.85 L664.15,407.85 L664.4,407.85 L664.65,407.85 L664.9,407.85 L665.15,407.85 L665.4,407.85 L665.65,407.85 L665.9,407.85 L666.15,407.85 L666.4,407.85 L666.65,407.85 L666.9,407.85 L667.15,407.85 L667.4,407.85 L667.65,407.85 L667.9,407.85 L668.15,407.85 L668.4,407.85 L668.65,407.85 L668.9,407.85 L669.15,407.85 L669.4,407.85 L669.65,407.85 L669.9,407.85 L670.15,407.85 L670.4,407.85 L670.65,407.85 L670.9,407.85 L671.15,407.85 L671.4,407.85 L671.65,407.85 L671.9,407.85 L672.15,407.85 L672.4,407.85 L672.65,407.85 L672.9,407.85 L673.15,407.85 L673.4,407.85 L673.65,407.85 L673.9,407.85 L674.15,407.85 L674.4,407.85 L674.65,407.85 L674.9,407.85 L675.15,407.85 L675.4,407.85 L675.65,407.85 L675.9,407.85 L676.15,407.85 L676.4,407.85 L676.65,407.85 L676.9,407.85 L677.15,407.85 L677.4,407.85 L677.65,407.85 L677.9,407.85 L678.15,407.85 L678.4,407.85 L678.65,407.85 L678.9,407.85 L679.15,407.85 L679.4,407.85 L679.65,407.85 L679.9,407.85 L680.15,407.85 L680.4,407.85 L680.65,407.85 L680.9,407.85 L681.15,407.85 L681.4,407.85 L681.65,407.85 L681.9,407.85 L682.15,407.85 L682.4,407.85 L682.65,407.85 L682.9,407.85 L683.15,407.85 L683.4,407.85 L683.65,407.85 L683.9,407.85 L684.15,407.85 L684.4,407.85 L684.65,407.85 L684.9,407.85 L685.15,407.85 L685.4,407.85 L685.65,407.85 L685.9,407.85 L686.15,407.85 L686.4,407.85 L686.65,407.85 L686.9,407.85 L687.15,407.85 L687.4,407.85 L687.65,407.85 L687.9,407.85 L688.15,407.85 L688.4,407.85 L688.65,407.85 L688.9,407.85 L689.15,407.85 L689.4,407.85 L689.65,407.85 L689.9,407.85 L690.15,407.85 L690.4,407.85 L690.65,407.85 L690.9,407.85 L691.15,407.85 L691.4,407.85 L691.65,407.85 L691.9,407.85 L692.15,407.85 L692.4,407.85 L692.65,407.85 L692.9,407.85 L693.15,407.85 L693.4,407.85 L693.65,407.85 L693.9,407.85 L694.15,407.85 L694.4,407.85 L694.65,407.85 L694.9,407.85 L695.15,407.85 L695.4,407.85 L695.65,407.85 L695.9,407.85 L696.15,407.85 L696.4,407.85 L696.65,407.85 L696.9,407.85 L697.15,407.85 L697.4,407.85 L697.65,407.85 L697.9,407.85 L698.15,407.85 L698.4,407.85 L698.65,407.85 L698.9,407.85 L699.15,407.85 L699.4,407.85 L699.65,407.85 L699.9,407.85 L700.15,407.85 L700.4,407.85 L700.65,407.85 L700.9,407.85 L701.15,407.85 L701.4,407.85 L701.65,407.85 L701.9,407.85 L702.15,407.85 L702.4,407.85 L702.65,407.85 L702.9,407.85 L703.15,407.85 L703.4,407.85 L703.65,407.85 L703.9,407.85 L704.15,407.85 L704.4,407.85 L704.65,407.85 L704.9,407.85 L705.15,407.85 L705.4,407.85 L705.65,407.85 L705.9,407.85 L706.15,407.85 L706.4,407.85 L706.65,407.85 L706.9,407.85 L707.15,407.85 L707.4,407.85 L707.65,407.85 L707.9,407.85 L708.15,407.85 L708.4,407.85 L708.65,407.85 L708.9,407.85 L709.15,407.85 L709.4,407.85 L709.65,407.85 L709.9,407.85 L710.15,407.85 L710.4,407.85" fill="none" stroke="#762418" stroke-width="1.5" stroke-opacity="0.88" stroke-linejoin="round"/>
<text x="602.3" y="56.1" text-anchor="middle">8.52</text>
<text x="653.9" y="46.9" xml:space="preserve">NL: 1.30E8</text>
<text x="653.9" y="59.75" xml:space="preserve">m/z=</text>
<text x="653.9" y="72.6" xml:space="preserve">717.4481-717.4697 F:</text>
<text x="653.9" y="85.45" xml:space="preserve">FTMS + p ESI Full ms</text>
<text x="653.9" y="98.3" xml:space="preserve">[250.0000-1200.0000]</text>
<text x="653.9" y="111.15" xml:space="preserve"> MS H220_MeOH_ACN</text>
<text class="r" x="653.9" y="133.9" xml:space="preserve">NL: 1.30E8</text>
<text class="r" x="653.9" y="146.75" xml:space="preserve">m/z=</text>
<text class="r" x="653.9" y="159.6" xml:space="preserve">717.4481-717.4697 F:</text>
<text class="r" x="653.9" y="172.45" xml:space="preserve">FTMS + p ESI Full ms</text>
<text class="r" x="653.9" y="185.3" xml:space="preserve">[250.0000-1200.0000]</text>
<text class="r" x="653.9" y="198.15" xml:space="preserve"> MS 1A_MeOH_HESI</text>
<text class="L" x="0" y="497.3">A</text>
<path d="M44,514.95V890.95H294.05" fill="none" stroke="#262626" stroke-width="1.3"/>
<path d="M40,890.95H44M41.6,887.19H44M41.6,883.43H44M41.6,879.67H44M41.6,875.91H44M40,872.15H44M41.6,868.39H44M41.6,864.63H44M41.6,860.87H44M41.6,857.11H44M40,853.35H44M41.6,849.59H44M41.6,845.83H44M41.6,842.07H44M41.6,838.31H44M40,834.55H44M41.6,830.79H44M41.6,827.03H44M41.6,823.27H44M41.6,819.51H44M40,815.75H44M41.6,811.99H44M41.6,808.23H44M41.6,804.47H44M41.6,800.71H44M40,796.95H44M41.6,793.19H44M41.6,789.43H44M41.6,785.67H44M41.6,781.91H44M40,778.15H44M41.6,774.39H44M41.6,770.63H44M41.6,766.87H44M41.6,763.11H44M40,759.35H44M41.6,755.59H44M41.6,751.83H44M41.6,748.07H44M41.6,744.31H44M40,740.55H44M41.6,736.79H44M41.6,733.03H44M41.6,729.27H44M41.6,725.51H44M40,721.75H44M41.6,717.99H44M41.6,714.23H44M41.6,710.47H44M41.6,706.71H44M40,702.95H44M41.6,699.19H44M41.6,695.43H44M41.6,691.67H44M41.6,687.91H44M40,684.15H44M41.6,680.39H44M41.6,676.63H44M41.6,672.87H44M41.6,669.11H44M40,665.35H44M41.6,661.59H44M41.6,657.83H44M41.6,654.07H44M41.6,650.31H44M40,646.55H44M41.6,642.79H44M41.6,639.03H44M41.6,635.27H44M41.6,631.51H44M40,627.75H44M41.6,623.99H44M41.6,620.23H44M41.6,616.47H44M41.6,612.71H44M40,608.95H44M41.6,605.19H44M41.6,601.43H44M41.6,597.67H44M41.6,593.91H44M40,590.15H44M41.6,586.39H44M41.6,582.63H44M41.6,578.87H44M41.6,575.11H44M40,571.35H44M41.6,567.59H44M41.6,563.83H44M41.6,560.07H44M41.6,556.31H44M40,552.55H44M41.6,548.79H44M41.6,545.03H44M41.6,541.27H44M41.6,537.51H44M40,533.75H44M41.6,529.99H44M41.6,526.23H44M41.6,522.47H44M41.6,518.71H44M40,514.95H44M44,890.95V894.95M52.34,890.95V893.45M60.67,890.95V893.45M69,890.95V893.45M77.34,890.95V894.95M85.68,890.95V893.45M94.01,890.95V893.45M102.34,890.95V893.45M110.68,890.95V894.95M119.02,890.95V893.45M127.35,890.95V893.45M135.69,890.95V893.45M144.02,890.95V894.95M152.36,890.95V893.45M160.69,890.95V893.45M169.03,890.95V893.45M177.36,890.95V894.95M185.7,890.95V893.45M194.03,890.95V893.45M202.37,890.95V893.45M210.7,890.95V894.95M219.04,890.95V893.45M227.37,890.95V893.45M235.71,890.95V893.45M244.04,890.95V894.95M252.38,890.95V893.45M260.71,890.95V893.45M269.05,890.95V893.45M277.38,890.95V894.95M285.72,890.95V893.45M294.05,890.95V893.45" fill="none" stroke="#262626" stroke-width="1"/>
<text x="26" y="893.8" text-anchor="middle">0</text>
<text x="26" y="875" text-anchor="middle">5</text>
<text x="26.6" y="856.2" text-anchor="middle">10</text>
<text x="26.6" y="837.4" text-anchor="middle">15</text>
<text x="26.6" y="818.6" text-anchor="middle">20</text>
<text x="26.6" y="799.8" text-anchor="middle">25</text>
<text x="26.6" y="781" text-anchor="middle">30</text>
<text x="26.6" y="762.2" text-anchor="middle">35</text>
<text x="26.6" y="743.4" text-anchor="middle">40</text>
<text x="26.6" y="724.6" text-anchor="middle">45</text>
<text x="26.6" y="705.8" text-anchor="middle">50</text>
<text x="26.6" y="687" text-anchor="middle">55</text>
<text x="26.6" y="668.2" text-anchor="middle">60</text>
<text x="26.6" y="649.4" text-anchor="middle">65</text>
<text x="26.6" y="630.6" text-anchor="middle">70</text>
<text x="26.6" y="611.8" text-anchor="middle">75</text>
<text x="26.6" y="593" text-anchor="middle">80</text>
<text x="26.6" y="574.2" text-anchor="middle">85</text>
<text x="26.6" y="555.4" text-anchor="middle">90</text>
<text x="26.6" y="536.6" text-anchor="middle">95</text>
<text x="27.8" y="517.8" text-anchor="middle">100</text>
<text x="44" y="905.7" text-anchor="middle">0</text>
<text x="77.34" y="905.7" text-anchor="middle">2</text>
<text x="110.68" y="905.7" text-anchor="middle">4</text>
<text x="144.02" y="905.7" text-anchor="middle">6</text>
<text x="177.36" y="905.7" text-anchor="middle">8</text>
<text x="210.7" y="905.7" text-anchor="middle">10</text>
<text x="244.04" y="905.7" text-anchor="middle">12</text>
<text x="277.38" y="905.7" text-anchor="middle">14</text>
<text x="129.7" y="922.8">Time (min)</text>
<text class="ra" transform="translate(10.8,700.3) rotate(-90)" text-anchor="middle">Relative Abundance</text>
<path d="M44,890.95 L44.25,890.95 L44.5,890.95 L44.75,890.95 L45,890.95 L45.25,890.95 L45.5,890.95 L45.75,890.95 L46,890.95 L46.25,890.95 L46.5,890.95 L46.75,890.95 L47,890.95 L47.25,890.95 L47.5,890.95 L47.75,890.95 L48,890.95 L48.25,890.95 L48.5,890.95 L48.75,890.95 L49,890.95 L49.25,890.95 L49.5,890.95 L49.75,890.95 L50,890.95 L50.25,890.95 L50.5,890.95 L50.75,890.95 L51,890.95 L51.25,890.95 L51.5,890.95 L51.75,890.95 L52,890.95 L52.25,890.95 L52.5,890.95 L52.75,890.95 L53,890.95 L53.25,890.95 L53.5,890.95 L53.75,890.95 L54,890.95 L54.25,890.95 L54.5,890.95 L54.75,890.95 L55,890.95 L55.25,890.95 L55.5,890.95 L55.75,890.95 L56,890.95 L56.25,890.95 L56.5,890.95 L56.75,890.95 L57,890.95 L57.25,890.95 L57.5,890.95 L57.75,890.95 L58,890.95 L58.25,890.95 L58.5,890.95 L58.75,890.95 L59,890.95 L59.25,890.95 L59.5,890.95 L59.75,890.95 L60,890.95 L60.25,890.95 L60.5,890.95 L60.75,890.95 L61,890.95 L61.25,890.95 L61.5,890.95 L61.75,890.95 L62,890.95 L62.25,890.95 L62.5,890.95 L62.75,890.95 L63,890.95 L63.25,890.95 L63.5,890.95 L63.75,890.95 L64,890.95 L64.25,890.95 L64.5,890.95 L64.75,890.95 L65,890.95 L65.25,890.95 L65.5,890.95 L65.75,890.95 L66,890.95 L66.25,890.95 L66.5,890.95 L66.75,890.95 L67,890.95 L67.25,890.95 L67.5,890.95 L67.75,890.95 L68,890.95 L68.25,890.95 L68.5,890.95 L68.75,890.95 L69,890.95 L69.25,890.95 L69.5,890.95 L69.75,890.95 L70,890.95 L70.25,890.95 L70.5,890.95 L70.75,890.95 L71,890.95 L71.25,890.95 L71.5,890.95 L71.75,890.95 L72,890.95 L72.25,890.95 L72.5,890.95 L72.75,890.95 L73,890.95 L73.25,890.95 L73.5,890.95 L73.75,890.95 L74,890.95 L74.25,890.95 L74.5,890.95 L74.75,890.95 L75,890.95 L75.25,890.95 L75.5,890.95 L75.75,890.95 L76,890.95 L76.25,890.95 L76.5,890.95 L76.75,890.95 L77,890.95 L77.25,890.95 L77.5,890.95 L77.75,890.95 L78,890.95 L78.25,890.95 L78.5,890.95 L78.75,890.95 L79,890.95 L79.25,890.95 L79.5,890.95 L79.75,890.95 L80,890.95 L80.25,890.95 L80.5,890.95 L80.75,890.95 L81,890.95 L81.25,890.95 L81.5,890.95 L81.75,890.95 L82,890.95 L82.25,890.95 L82.5,890.95 L82.75,890.95 L83,890.95 L83.25,890.95 L83.5,890.95 L83.75,890.95 L84,890.95 L84.25,890.95 L84.5,890.95 L84.75,890.95 L85,890.95 L85.25,890.95 L85.5,890.95 L85.75,890.95 L86,890.95 L86.25,890.95 L86.5,890.95 L86.75,890.95 L87,890.95 L87.25,890.95 L87.5,890.95 L87.75,890.95 L88,890.95 L88.25,890.95 L88.5,890.95 L88.75,890.95 L89,890.95 L89.25,890.95 L89.5,890.95 L89.75,890.95 L90,890.95 L90.25,890.95 L90.5,890.95 L90.75,890.95 L91,890.95 L91.25,890.95 L91.5,890.95 L91.75,890.95 L92,890.95 L92.25,890.95 L92.5,890.95 L92.75,890.95 L93,890.95 L93.25,890.95 L93.5,890.95 L93.75,890.95 L94,890.95 L94.25,890.95 L94.5,890.95 L94.75,890.95 L95,890.95 L95.25,890.95 L95.5,890.95 L95.75,890.95 L96,890.95 L96.25,890.95 L96.5,890.95 L96.75,890.95 L97,890.95 L97.25,890.95 L97.5,890.95 L97.75,890.95 L98,890.95 L98.25,890.95 L98.5,890.95 L98.75,890.95 L99,890.95 L99.25,890.95 L99.5,890.95 L99.75,890.95 L100,890.95 L100.25,890.95 L100.5,890.95 L100.75,890.95 L101,890.95 L101.25,890.95 L101.5,890.95 L101.75,890.95 L102,890.95 L102.25,890.95 L102.5,890.95 L102.75,890.95 L103,890.95 L103.25,890.95 L103.5,890.95 L103.75,890.95 L104,890.95 L104.25,890.95 L104.5,890.95 L104.75,890.95 L105,890.95 L105.25,890.95 L105.5,890.95 L105.75,890.95 L106,890.95 L106.25,890.95 L106.5,890.95 L106.75,890.95 L107,890.95 L107.25,890.95 L107.5,890.95 L107.75,890.95 L108,890.95 L108.25,890.95 L108.5,890.95 L108.75,890.95 L109,890.95 L109.25,890.95 L109.5,890.95 L109.75,890.95 L110,890.95 L110.25,890.95 L110.5,890.95 L110.75,890.95 L111,890.95 L111.25,890.95 L111.5,890.95 L111.75,890.95 L112,890.95 L112.25,890.95 L112.5,890.95 L112.75,890.95 L113,890.95 L113.25,890.95 L113.5,890.95 L113.75,890.95 L114,890.95 L114.25,890.95 L114.5,890.95 L114.75,890.95 L115,890.95 L115.25,890.95 L115.5,890.95 L115.75,890.95 L116,890.95 L116.25,890.95 L116.5,890.95 L116.75,890.95 L117,890.95 L117.25,890.95 L117.5,890.95 L117.75,890.95 L118,890.95 L118.25,890.95 L118.5,890.95 L118.75,890.95 L119,890.95 L119.25,890.95 L119.5,890.95 L119.75,890.95 L120,890.95 L120.25,890.95 L120.5,890.95 L120.75,890.95 L121,890.95 L121.25,890.95 L121.5,890.95 L121.75,890.95 L122,890.95 L122.25,890.95 L122.5,890.95 L122.75,890.95 L123,890.95 L123.25,890.95 L123.5,890.95 L123.75,890.95 L124,890.95 L124.25,890.95 L124.5,890.95 L124.75,890.95 L125,890.95 L125.25,890.95 L125.5,890.95 L125.75,890.95 L126,890.95 L126.25,890.95 L126.5,890.95 L126.75,890.95 L127,890.95 L127.25,890.95 L127.5,890.95 L127.75,890.95 L128,890.95 L128.25,890.95 L128.5,890.95 L128.75,890.95 L129,890.95 L129.25,890.95 L129.5,890.95 L129.75,890.95 L130,890.95 L130.25,890.95 L130.5,890.95 L130.75,890.95 L131,890.95 L131.25,890.95 L131.5,890.95 L131.75,890.95 L132,890.95 L132.25,890.95 L132.5,890.95 L132.75,890.95 L133,890.95 L133.25,890.95 L133.5,890.95 L133.75,890.95 L134,890.95 L134.25,890.95 L134.5,890.95 L134.75,890.95 L135,890.95 L135.25,890.95 L135.5,890.95 L135.75,890.95 L136,890.95 L136.25,890.95 L136.5,890.95 L136.75,890.95 L137,890.95 L137.25,890.95 L137.5,890.95 L137.75,890.95 L138,890.95 L138.25,890.95 L138.5,890.95 L138.75,890.95 L139,890.95 L139.25,890.95 L139.5,890.94 L139.75,890.94 L140,890.94 L140.25,890.94 L140.5,890.93 L140.75,890.93 L141,890.92 L141.25,890.91 L141.5,890.91 L141.75,890.89 L142,890.88 L142.25,890.86 L142.5,890.84 L142.75,890.82 L143,890.79 L143.25,890.75 L143.5,890.71 L143.75,890.66 L144,890.6 L144.25,890.53 L144.5,890.44 L144.75,890.35 L145,890.23 L145.25,890.1 L145.5,889.94 L145.75,889.77 L146,889.56 L146.25,889.33 L146.5,889.07 L146.75,888.77 L147,888.43 L147.25,888.05 L147.5,887.62 L147.75,887.14 L148,886.59 L148.25,885.97 L148.5,885.27 L148.75,884.46 L149,883.52 L149.25,882.41 L149.5,881.09 L149.75,879.51 L150,877.57 L150.25,875.19 L150.5,872.24 L150.75,868.59 L151,864.06 L151.25,858.48 L151.5,851.65 L151.75,843.38 L152,833.46 L152.25,821.75 L152.5,808.13 L152.75,792.57 L153,775.1 L153.25,755.89 L153.5,735.2 L153.75,713.44 L154,691.14 L154.25,668.93 L154.5,647.52 L154.75,627.68 L155,610.15 L155.25,595.67 L155.5,584.83 L155.75,578.13 L156,575.86 L156.25,578.18 L156.5,585.04 L156.75,596.12 L157,610.93 L157.25,628.85 L157.5,649.14 L157.75,671.02 L158,693.72 L158.25,716.49 L158.5,738.7 L158.75,759.8 L159,779.38 L159.25,797.16 L159.5,812.97 L159.75,826.77 L160,838.6 L160.25,848.57 L160.5,856.86 L160.75,863.64 L161,869.13 L161.25,873.52 L161.5,877.01 L161.75,879.76 L162,881.93 L162.25,883.64 L162.5,884.98 L162.75,886.05 L163,886.9 L163.25,887.59 L163.5,888.16 L163.75,888.62 L164,889 L164.25,889.32 L164.5,889.59 L164.75,889.82 L165,890.01 L165.25,890.18 L165.5,890.31 L165.75,890.43 L166,890.52 L166.25,890.6 L166.5,890.67 L166.75,890.72 L167,890.77 L167.25,890.81 L167.5,890.84 L167.75,890.86 L168,890.88 L168.25,890.89 L168.5,890.91 L168.75,890.92 L169,890.92 L169.25,890.93 L169.5,890.94 L169.75,890.94 L170,890.94 L170.25,890.94 L170.5,890.95 L170.75,890.95 L171,890.95 L171.25,890.95 L171.5,890.95 L171.75,890.95 L172,890.95 L172.25,890.95 L172.5,890.95 L172.75,890.95 L173,890.95 L173.25,890.95 L173.5,890.95 L173.75,890.95 L174,890.95 L174.25,890.95 L174.5,890.95 L174.75,890.95 L175,890.95 L175.25,890.95 L175.5,890.95 L175.75,890.95 L176,890.95 L176.25,890.95 L176.5,890.95 L176.75,890.95 L177,890.95 L177.25,890.95 L177.5,890.95 L177.75,890.95 L178,890.95 L178.25,890.95 L178.5,890.95 L178.75,890.95 L179,890.95 L179.25,890.95 L179.5,890.95 L179.75,890.95 L180,890.95 L180.25,890.95 L180.5,890.95 L180.75,890.95 L181,890.95 L181.25,890.95 L181.5,890.95 L181.75,890.95 L182,890.95 L182.25,890.95 L182.5,890.95 L182.75,890.95 L183,890.95 L183.25,890.95 L183.5,890.95 L183.75,890.95 L184,890.95 L184.25,890.95 L184.5,890.95 L184.75,890.95 L185,890.95 L185.25,890.95 L185.5,890.95 L185.75,890.95 L186,890.95 L186.25,890.95 L186.5,890.95 L186.75,890.95 L187,890.95 L187.25,890.95 L187.5,890.95 L187.75,890.95 L188,890.95 L188.25,890.95 L188.5,890.95 L188.75,890.95 L189,890.95 L189.25,890.95 L189.5,890.95 L189.75,890.95 L190,890.95 L190.25,890.95 L190.5,890.95 L190.75,890.95 L191,890.95 L191.25,890.95 L191.5,890.95 L191.75,890.95 L192,890.95 L192.25,890.95 L192.5,890.95 L192.75,890.95 L193,890.95 L193.25,890.95 L193.5,890.95 L193.75,890.95 L194,890.95 L194.25,890.95 L194.5,890.95 L194.75,890.95 L195,890.95 L195.25,890.95 L195.5,890.95 L195.75,890.95 L196,890.95 L196.25,890.95 L196.5,890.95 L196.75,890.95 L197,890.95 L197.25,890.95 L197.5,890.95 L197.75,890.95 L198,890.95 L198.25,890.95 L198.5,890.95 L198.75,890.95 L199,890.95 L199.25,890.95 L199.5,890.95 L199.75,890.95 L200,890.95 L200.25,890.95 L200.5,890.95 L200.75,890.95 L201,890.95 L201.25,890.95 L201.5,890.95 L201.75,890.95 L202,890.95 L202.25,890.95 L202.5,890.95 L202.75,890.95 L203,890.95 L203.25,890.95 L203.5,890.95 L203.75,890.95 L204,890.95 L204.25,890.95 L204.5,890.95 L204.75,890.95 L205,890.95 L205.25,890.95 L205.5,890.95 L205.75,890.95 L206,890.95 L206.25,890.95 L206.5,890.95 L206.75,890.95 L207,890.95 L207.25,890.95 L207.5,890.95 L207.75,890.95 L208,890.95 L208.25,890.95 L208.5,890.95 L208.75,890.95 L209,890.95 L209.25,890.95 L209.5,890.95 L209.75,890.95 L210,890.95 L210.25,890.95 L210.5,890.95 L210.75,890.95 L211,890.95 L211.25,890.95 L211.5,890.95 L211.75,890.95 L212,890.95 L212.25,890.95 L212.5,890.95 L212.75,890.95 L213,890.95 L213.25,890.95 L213.5,890.95 L213.75,890.95 L214,890.95 L214.25,890.95 L214.5,890.95 L214.75,890.95 L215,890.95 L215.25,890.95 L215.5,890.95 L215.75,890.95 L216,890.95 L216.25,890.95 L216.5,890.95 L216.75,890.95 L217,890.95 L217.25,890.95 L217.5,890.95 L217.75,890.95 L218,890.95 L218.25,890.95 L218.5,890.95 L218.75,890.95 L219,890.95 L219.25,890.95 L219.5,890.95 L219.75,890.95 L220,890.95 L220.25,890.95 L220.5,890.95 L220.75,890.95 L221,890.95 L221.25,890.95 L221.5,890.95 L221.75,890.95 L222,890.95 L222.25,890.95 L222.5,890.95 L222.75,890.95 L223,890.95 L223.25,890.95 L223.5,890.95 L223.75,890.95 L224,890.95 L224.25,890.95 L224.5,890.95 L224.75,890.95 L225,890.95 L225.25,890.95 L225.5,890.95 L225.75,890.95 L226,890.95 L226.25,890.95 L226.5,890.95 L226.75,890.95 L227,890.95 L227.25,890.95 L227.5,890.95 L227.75,890.95 L228,890.95 L228.25,890.95 L228.5,890.95 L228.75,890.95 L229,890.95 L229.25,890.95 L229.5,890.95 L229.75,890.95 L230,890.95 L230.25,890.95 L230.5,890.95 L230.75,890.95 L231,890.95 L231.25,890.95 L231.5,890.95 L231.75,890.95 L232,890.95 L232.25,890.95 L232.5,890.95 L232.75,890.95 L233,890.95 L233.25,890.95 L233.5,890.95 L233.75,890.95 L234,890.95 L234.25,890.95 L234.5,890.95 L234.75,890.95 L235,890.95 L235.25,890.95 L235.5,890.95 L235.75,890.95 L236,890.95 L236.25,890.95 L236.5,890.95 L236.75,890.95 L237,890.95 L237.25,890.95 L237.5,890.95 L237.75,890.95 L238,890.95 L238.25,890.95 L238.5,890.95 L238.75,890.95 L239,890.95 L239.25,890.95 L239.5,890.95 L239.75,890.95 L240,890.95 L240.25,890.95 L240.5,890.95 L240.75,890.95 L241,890.95 L241.25,890.95 L241.5,890.95 L241.75,890.95 L242,890.95 L242.25,890.95 L242.5,890.95 L242.75,890.95 L243,890.95 L243.25,890.95 L243.5,890.95 L243.75,890.95 L244,890.95 L244.25,890.95 L244.5,890.95 L244.75,890.95 L245,890.95 L245.25,890.95 L245.5,890.95 L245.75,890.95 L246,890.95 L246.25,890.95 L246.5,890.95 L246.75,890.95 L247,890.95 L247.25,890.95 L247.5,890.95 L247.75,890.95 L248,890.95 L248.25,890.95 L248.5,890.95 L248.75,890.95 L249,890.95 L249.25,890.95 L249.5,890.95 L249.75,890.95 L250,890.95 L250.25,890.95 L250.5,890.95 L250.75,890.95 L251,890.95 L251.25,890.95 L251.5,890.95 L251.75,890.95 L252,890.95 L252.25,890.95 L252.5,890.95 L252.75,890.95 L253,890.95 L253.25,890.95 L253.5,890.95 L253.75,890.95 L254,890.95 L254.25,890.95 L254.5,890.95 L254.75,890.95 L255,890.95 L255.25,890.95 L255.5,890.95 L255.75,890.95 L256,890.95 L256.25,890.95 L256.5,890.95 L256.75,890.95 L257,890.95 L257.25,890.95 L257.5,890.95 L257.75,890.95 L258,890.95 L258.25,890.95 L258.5,890.95 L258.75,890.95 L259,890.95 L259.25,890.95 L259.5,890.95 L259.75,890.95 L260,890.95 L260.25,890.95 L260.5,890.95 L260.75,890.95 L261,890.95 L261.25,890.95 L261.5,890.95 L261.75,890.95 L262,890.95 L262.25,890.95 L262.5,890.95 L262.75,890.95 L263,890.95 L263.25,890.95 L263.5,890.95 L263.75,890.95 L264,890.95 L264.25,890.95 L264.5,890.95 L264.75,890.95 L265,890.95 L265.25,890.95 L265.5,890.95 L265.75,890.95 L266,890.95 L266.25,890.95 L266.5,890.95 L266.75,890.95 L267,890.95 L267.25,890.95 L267.5,890.95 L267.75,890.95 L268,890.95 L268.25,890.95 L268.5,890.95 L268.75,890.95 L269,890.95 L269.25,890.95 L269.5,890.95 L269.75,890.95 L270,890.95 L270.25,890.95 L270.5,890.95 L270.75,890.95 L271,890.95 L271.25,890.95 L271.5,890.95 L271.75,890.95 L272,890.95 L272.25,890.95 L272.5,890.95 L272.75,890.95 L273,890.95 L273.25,890.95 L273.5,890.95 L273.75,890.95 L274,890.95 L274.25,890.95 L274.5,890.95 L274.75,890.95 L275,890.95 L275.25,890.95 L275.5,890.95 L275.75,890.95 L276,890.95 L276.25,890.95 L276.5,890.95 L276.75,890.95 L277,890.95 L277.25,890.95 L277.5,890.95 L277.75,890.95 L278,890.95 L278.25,890.95 L278.5,890.95 L278.75,890.95 L279,890.95 L279.25,890.95 L279.5,890.95 L279.75,890.95 L280,890.95 L280.25,890.95 L280.5,890.95 L280.75,890.95 L281,890.95 L281.25,890.95 L281.5,890.95 L281.75,890.95 L282,890.95 L282.25,890.95 L282.5,890.95 L282.75,890.95 L283,890.95 L283.25,890.95 L283.5,890.95 L283.75,890.95 L284,890.95 L284.25,890.95 L284.5,890.95 L284.75,890.95 L285,890.95 L285.25,890.95 L285.5,890.95 L285.75,890.95 L286,890.95 L286.25,890.95 L286.5,890.95 L286.75,890.95 L287,890.95 L287.25,890.95 L287.5,890.95 L287.75,890.95 L288,890.95 L288.25,890.95 L288.5,890.95 L288.75,890.95 L289,890.95 L289.25,890.95 L289.5,890.95 L289.75,890.95 L290,890.95 L290.25,890.95 L290.5,890.95 L290.75,890.95 L291,890.95 L291.25,890.95 L291.5,890.95 L291.75,890.95 L292,890.95 L292.25,890.95 L292.5,890.95 L292.75,890.95 L293,890.95 L293.25,890.95 L293.5,890.95 L293.75,890.95 L294,890.95" fill="none" stroke="#3a3a3a" stroke-width="1.1" stroke-linejoin="round"/>
<path d="M44,890.95 L44.25,890.95 L44.5,890.95 L44.75,890.95 L45,890.95 L45.25,890.95 L45.5,890.95 L45.75,890.95 L46,890.95 L46.25,890.95 L46.5,890.95 L46.75,890.95 L47,890.95 L47.25,890.95 L47.5,890.95 L47.75,890.95 L48,890.95 L48.25,890.95 L48.5,890.95 L48.75,890.95 L49,890.95 L49.25,890.95 L49.5,890.95 L49.75,890.95 L50,890.95 L50.25,890.95 L50.5,890.95 L50.75,890.95 L51,890.95 L51.25,890.95 L51.5,890.95 L51.75,890.95 L52,890.95 L52.25,890.95 L52.5,890.95 L52.75,890.95 L53,890.95 L53.25,890.95 L53.5,890.95 L53.75,890.95 L54,890.95 L54.25,890.95 L54.5,890.95 L54.75,890.95 L55,890.95 L55.25,890.95 L55.5,890.95 L55.75,890.95 L56,890.95 L56.25,890.95 L56.5,890.95 L56.75,890.95 L57,890.95 L57.25,890.95 L57.5,890.95 L57.75,890.95 L58,890.95 L58.25,890.95 L58.5,890.95 L58.75,890.95 L59,890.95 L59.25,890.95 L59.5,890.95 L59.75,890.95 L60,890.95 L60.25,890.95 L60.5,890.95 L60.75,890.95 L61,890.95 L61.25,890.95 L61.5,890.95 L61.75,890.95 L62,890.95 L62.25,890.95 L62.5,890.95 L62.75,890.95 L63,890.95 L63.25,890.95 L63.5,890.95 L63.75,890.95 L64,890.95 L64.25,890.95 L64.5,890.95 L64.75,890.95 L65,890.95 L65.25,890.95 L65.5,890.95 L65.75,890.95 L66,890.95 L66.25,890.95 L66.5,890.95 L66.75,890.95 L67,890.95 L67.25,890.95 L67.5,890.95 L67.75,890.95 L68,890.95 L68.25,890.95 L68.5,890.95 L68.75,890.95 L69,890.95 L69.25,890.95 L69.5,890.95 L69.75,890.95 L70,890.95 L70.25,890.95 L70.5,890.95 L70.75,890.95 L71,890.95 L71.25,890.95 L71.5,890.95 L71.75,890.95 L72,890.95 L72.25,890.95 L72.5,890.95 L72.75,890.95 L73,890.95 L73.25,890.95 L73.5,890.95 L73.75,890.95 L74,890.95 L74.25,890.95 L74.5,890.95 L74.75,890.95 L75,890.95 L75.25,890.95 L75.5,890.95 L75.75,890.95 L76,890.95 L76.25,890.95 L76.5,890.95 L76.75,890.95 L77,890.95 L77.25,890.95 L77.5,890.95 L77.75,890.95 L78,890.95 L78.25,890.95 L78.5,890.95 L78.75,890.95 L79,890.95 L79.25,890.95 L79.5,890.95 L79.75,890.95 L80,890.95 L80.25,890.95 L80.5,890.95 L80.75,890.95 L81,890.95 L81.25,890.95 L81.5,890.95 L81.75,890.95 L82,890.95 L82.25,890.95 L82.5,890.95 L82.75,890.95 L83,890.95 L83.25,890.95 L83.5,890.95 L83.75,890.95 L84,890.95 L84.25,890.95 L84.5,890.95 L84.75,890.95 L85,890.95 L85.25,890.95 L85.5,890.95 L85.75,890.95 L86,890.95 L86.25,890.95 L86.5,890.95 L86.75,890.95 L87,890.95 L87.25,890.95 L87.5,890.95 L87.75,890.95 L88,890.95 L88.25,890.95 L88.5,890.95 L88.75,890.95 L89,890.95 L89.25,890.95 L89.5,890.95 L89.75,890.95 L90,890.95 L90.25,890.95 L90.5,890.95 L90.75,890.95 L91,890.95 L91.25,890.95 L91.5,890.95 L91.75,890.95 L92,890.95 L92.25,890.95 L92.5,890.95 L92.75,890.95 L93,890.95 L93.25,890.95 L93.5,890.95 L93.75,890.95 L94,890.95 L94.25,890.95 L94.5,890.95 L94.75,890.95 L95,890.95 L95.25,890.95 L95.5,890.95 L95.75,890.95 L96,890.95 L96.25,890.95 L96.5,890.95 L96.75,890.95 L97,890.95 L97.25,890.95 L97.5,890.95 L97.75,890.95 L98,890.95 L98.25,890.95 L98.5,890.95 L98.75,890.95 L99,890.95 L99.25,890.95 L99.5,890.95 L99.75,890.95 L100,890.95 L100.25,890.95 L100.5,890.95 L100.75,890.95 L101,890.95 L101.25,890.95 L101.5,890.95 L101.75,890.95 L102,890.95 L102.25,890.95 L102.5,890.95 L102.75,890.95 L103,890.95 L103.25,890.95 L103.5,890.95 L103.75,890.95 L104,890.95 L104.25,890.95 L104.5,890.95 L104.75,890.95 L105,890.95 L105.25,890.95 L105.5,890.95 L105.75,890.95 L106,890.95 L106.25,890.95 L106.5,890.95 L106.75,890.95 L107,890.95 L107.25,890.95 L107.5,890.95 L107.75,890.95 L108,890.95 L108.25,890.95 L108.5,890.95 L108.75,890.95 L109,890.95 L109.25,890.95 L109.5,890.95 L109.75,890.95 L110,890.95 L110.25,890.95 L110.5,890.95 L110.75,890.95 L111,890.95 L111.25,890.95 L111.5,890.95 L111.75,890.95 L112,890.95 L112.25,890.95 L112.5,890.95 L112.75,890.95 L113,890.95 L113.25,890.95 L113.5,890.95 L113.75,890.95 L114,890.95 L114.25,890.95 L114.5,890.95 L114.75,890.95 L115,890.95 L115.25,890.95 L115.5,890.95 L115.75,890.95 L116,890.95 L116.25,890.95 L116.5,890.95 L116.75,890.95 L117,890.95 L117.25,890.95 L117.5,890.95 L117.75,890.95 L118,890.95 L118.25,890.95 L118.5,890.95 L118.75,890.95 L119,890.95 L119.25,890.95 L119.5,890.95 L119.75,890.95 L120,890.95 L120.25,890.95 L120.5,890.95 L120.75,890.95 L121,890.95 L121.25,890.95 L121.5,890.95 L121.75,890.95 L122,890.95 L122.25,890.95 L122.5,890.95 L122.75,890.95 L123,890.95 L123.25,890.95 L123.5,890.95 L123.75,890.95 L124,890.95 L124.25,890.95 L124.5,890.95 L124.75,890.95 L125,890.95 L125.25,890.95 L125.5,890.95 L125.75,890.95 L126,890.95 L126.25,890.95 L126.5,890.95 L126.75,890.95 L127,890.95 L127.25,890.95 L127.5,890.95 L127.75,890.95 L128,890.95 L128.25,890.95 L128.5,890.95 L128.75,890.95 L129,890.95 L129.25,890.95 L129.5,890.95 L129.75,890.95 L130,890.95 L130.25,890.95 L130.5,890.95 L130.75,890.95 L131,890.95 L131.25,890.95 L131.5,890.95 L131.75,890.95 L132,890.95 L132.25,890.95 L132.5,890.95 L132.75,890.95 L133,890.95 L133.25,890.95 L133.5,890.95 L133.75,890.95 L134,890.95 L134.25,890.95 L134.5,890.95 L134.75,890.95 L135,890.95 L135.25,890.94 L135.5,890.94 L135.75,890.94 L136,890.94 L136.25,890.94 L136.5,890.94 L136.75,890.93 L137,890.93 L137.25,890.93 L137.5,890.92 L137.75,890.92 L138,890.92 L138.25,890.91 L138.5,890.9 L138.75,890.9 L139,890.89 L139.25,890.88 L139.5,890.87 L139.75,890.85 L140,890.84 L140.25,890.82 L140.5,890.8 L140.75,890.78 L141,890.76 L141.25,890.74 L141.5,890.71 L141.75,890.67 L142,890.64 L142.25,890.6 L142.5,890.56 L142.75,890.51 L143,890.45 L143.25,890.4 L143.5,890.33 L143.75,890.26 L144,890.18 L144.25,890.09 L144.5,890 L144.75,889.89 L145,889.78 L145.25,889.65 L145.5,889.51 L145.75,889.35 L146,889.17 L146.25,888.97 L146.5,888.75 L146.75,888.5 L147,888.21 L147.25,887.88 L147.5,887.51 L147.75,887.08 L148,886.59 L148.25,886.02 L148.5,885.37 L148.75,884.63 L149,883.77 L149.25,882.79 L149.5,881.67 L149.75,880.39 L150,878.94 L150.25,877.31 L150.5,875.48 L150.75,873.45 L151,871.19 L151.25,868.71 L151.5,866.01 L151.75,863.08 L152,859.94 L152.25,856.59 L152.5,853.06 L152.75,849.38 L153,845.58 L153.25,841.69 L153.5,837.76 L153.75,833.85 L154,830.01 L154.25,826.29 L154.5,822.76 L154.75,819.46 L155,816.47 L155.25,813.84 L155.5,811.61 L155.75,809.83 L156,808.53 L156.25,807.74 L156.5,807.48 L156.75,807.79 L157,808.73 L157.25,810.27 L157.5,812.38 L157.75,815 L158,818.09 L158.25,821.57 L158.5,825.37 L158.75,829.43 L159,833.66 L159.25,837.98 L159.5,842.33 L159.75,846.65 L160,850.86 L160.25,854.93 L160.5,858.81 L160.75,862.46 L161,865.87 L161.25,869.01 L161.5,871.88 L161.75,874.47 L162,876.79 L162.25,878.86 L162.5,880.68 L162.75,882.27 L163,883.64 L163.25,884.83 L163.5,885.84 L163.75,886.71 L164,887.43 L164.25,888.04 L164.5,888.55 L164.75,888.98 L165,889.33 L165.25,889.62 L165.5,889.86 L165.75,890.05 L166,890.21 L166.25,890.35 L166.5,890.46 L166.75,890.54 L167,890.62 L167.25,890.68 L167.5,890.73 L167.75,890.77 L168,890.8 L168.25,890.83 L168.5,890.85 L168.75,890.87 L169,890.88 L169.25,890.9 L169.5,890.91 L169.75,890.91 L170,890.92 L170.25,890.93 L170.5,890.93 L170.75,890.94 L171,890.94 L171.25,890.94 L171.5,890.94 L171.75,890.94 L172,890.95 L172.25,890.95 L172.5,890.95 L172.75,890.95 L173,890.95 L173.25,890.95 L173.5,890.95 L173.75,890.95 L174,890.95 L174.25,890.95 L174.5,890.95 L174.75,890.95 L175,890.95 L175.25,890.95 L175.5,890.95 L175.75,890.95 L176,890.95 L176.25,890.95 L176.5,890.95 L176.75,890.95 L177,890.95 L177.25,890.95 L177.5,890.95 L177.75,890.95 L178,890.95 L178.25,890.95 L178.5,890.95 L178.75,890.95 L179,890.95 L179.25,890.95 L179.5,890.95 L179.75,890.95 L180,890.95 L180.25,890.95 L180.5,890.95 L180.75,890.95 L181,890.95 L181.25,890.95 L181.5,890.95 L181.75,890.95 L182,890.95 L182.25,890.95 L182.5,890.95 L182.75,890.95 L183,890.95 L183.25,890.95 L183.5,890.95 L183.75,890.95 L184,890.95 L184.25,890.95 L184.5,890.95 L184.75,890.95 L185,890.95 L185.25,890.95 L185.5,890.95 L185.75,890.95 L186,890.95 L186.25,890.95 L186.5,890.95 L186.75,890.95 L187,890.95 L187.25,890.95 L187.5,890.95 L187.75,890.95 L188,890.95 L188.25,890.95 L188.5,890.95 L188.75,890.95 L189,890.95 L189.25,890.95 L189.5,890.95 L189.75,890.95 L190,890.95 L190.25,890.95 L190.5,890.95 L190.75,890.95 L191,890.95 L191.25,890.95 L191.5,890.95 L191.75,890.95 L192,890.95 L192.25,890.95 L192.5,890.95 L192.75,890.95 L193,890.95 L193.25,890.95 L193.5,890.95 L193.75,890.95 L194,890.95 L194.25,890.95 L194.5,890.95 L194.75,890.95 L195,890.95 L195.25,890.95 L195.5,890.95 L195.75,890.95 L196,890.95 L196.25,890.95 L196.5,890.95 L196.75,890.95 L197,890.95 L197.25,890.95 L197.5,890.95 L197.75,890.95 L198,890.95 L198.25,890.95 L198.5,890.95 L198.75,890.95 L199,890.95 L199.25,890.95 L199.5,890.95 L199.75,890.95 L200,890.95 L200.25,890.95 L200.5,890.95 L200.75,890.95 L201,890.95 L201.25,890.95 L201.5,890.95 L201.75,890.95 L202,890.95 L202.25,890.95 L202.5,890.95 L202.75,890.95 L203,890.95 L203.25,890.95 L203.5,890.95 L203.75,890.95 L204,890.95 L204.25,890.95 L204.5,890.95 L204.75,890.95 L205,890.95 L205.25,890.95 L205.5,890.95 L205.75,890.95 L206,890.95 L206.25,890.95 L206.5,890.95 L206.75,890.95 L207,890.95 L207.25,890.95 L207.5,890.95 L207.75,890.95 L208,890.95 L208.25,890.95 L208.5,890.95 L208.75,890.95 L209,890.95 L209.25,890.95 L209.5,890.95 L209.75,890.95 L210,890.95 L210.25,890.95 L210.5,890.95 L210.75,890.95 L211,890.95 L211.25,890.95 L211.5,890.95 L211.75,890.95 L212,890.95 L212.25,890.95 L212.5,890.95 L212.75,890.95 L213,890.95 L213.25,890.95 L213.5,890.95 L213.75,890.95 L214,890.95 L214.25,890.95 L214.5,890.95 L214.75,890.95 L215,890.95 L215.25,890.95 L215.5,890.95 L215.75,890.95 L216,890.95 L216.25,890.95 L216.5,890.95 L216.75,890.95 L217,890.95 L217.25,890.95 L217.5,890.95 L217.75,890.95 L218,890.95 L218.25,890.95 L218.5,890.95 L218.75,890.95 L219,890.95 L219.25,890.95 L219.5,890.95 L219.75,890.95 L220,890.95 L220.25,890.95 L220.5,890.95 L220.75,890.95 L221,890.95 L221.25,890.95 L221.5,890.95 L221.75,890.95 L222,890.95 L222.25,890.95 L222.5,890.95 L222.75,890.95 L223,890.95 L223.25,890.95 L223.5,890.95 L223.75,890.95 L224,890.95 L224.25,890.95 L224.5,890.95 L224.75,890.95 L225,890.95 L225.25,890.95 L225.5,890.95 L225.75,890.95 L226,890.95 L226.25,890.95 L226.5,890.95 L226.75,890.95 L227,890.95 L227.25,890.95 L227.5,890.95 L227.75,890.95 L228,890.95 L228.25,890.95 L228.5,890.95 L228.75,890.95 L229,890.95 L229.25,890.95 L229.5,890.95 L229.75,890.95 L230,890.95 L230.25,890.95 L230.5,890.95 L230.75,890.95 L231,890.95 L231.25,890.95 L231.5,890.95 L231.75,890.95 L232,890.95 L232.25,890.95 L232.5,890.95 L232.75,890.95 L233,890.95 L233.25,890.95 L233.5,890.95 L233.75,890.95 L234,890.95 L234.25,890.95 L234.5,890.95 L234.75,890.95 L235,890.95 L235.25,890.95 L235.5,890.95 L235.75,890.95 L236,890.95 L236.25,890.95 L236.5,890.95 L236.75,890.95 L237,890.95 L237.25,890.95 L237.5,890.95 L237.75,890.95 L238,890.95 L238.25,890.95 L238.5,890.95 L238.75,890.95 L239,890.95 L239.25,890.95 L239.5,890.95 L239.75,890.95 L240,890.95 L240.25,890.95 L240.5,890.95 L240.75,890.95 L241,890.95 L241.25,890.95 L241.5,890.95 L241.75,890.95 L242,890.95 L242.25,890.95 L242.5,890.95 L242.75,890.95 L243,890.95 L243.25,890.95 L243.5,890.95 L243.75,890.95 L244,890.95 L244.25,890.95 L244.5,890.95 L244.75,890.95 L245,890.95 L245.25,890.95 L245.5,890.95 L245.75,890.95 L246,890.95 L246.25,890.95 L246.5,890.95 L246.75,890.95 L247,890.95 L247.25,890.95 L247.5,890.95 L247.75,890.95 L248,890.95 L248.25,890.95 L248.5,890.95 L248.75,890.95 L249,890.95 L249.25,890.95 L249.5,890.95 L249.75,890.95 L250,890.95 L250.25,890.95 L250.5,890.95 L250.75,890.95 L251,890.95 L251.25,890.95 L251.5,890.95 L251.75,890.95 L252,890.95 L252.25,890.95 L252.5,890.95 L252.75,890.95 L253,890.95 L253.25,890.95 L253.5,890.95 L253.75,890.95 L254,890.95 L254.25,890.95 L254.5,890.95 L254.75,890.95 L255,890.95 L255.25,890.95 L255.5,890.95 L255.75,890.95 L256,890.95 L256.25,890.95 L256.5,890.95 L256.75,890.95 L257,890.95 L257.25,890.95 L257.5,890.95 L257.75,890.95 L258,890.95 L258.25,890.95 L258.5,890.95 L258.75,890.95 L259,890.95 L259.25,890.95 L259.5,890.95 L259.75,890.95 L260,890.95 L260.25,890.95 L260.5,890.95 L260.75,890.95 L261,890.95 L261.25,890.95 L261.5,890.95 L261.75,890.95 L262,890.95 L262.25,890.95 L262.5,890.95 L262.75,890.95 L263,890.95 L263.25,890.95 L263.5,890.95 L263.75,890.95 L264,890.95 L264.25,890.95 L264.5,890.95 L264.75,890.95 L265,890.95 L265.25,890.95 L265.5,890.95 L265.75,890.95 L266,890.95 L266.25,890.95 L266.5,890.95 L266.75,890.95 L267,890.95 L267.25,890.95 L267.5,890.95 L267.75,890.95 L268,890.95 L268.25,890.95 L268.5,890.95 L268.75,890.95 L269,890.95 L269.25,890.95 L269.5,890.95 L269.75,890.95 L270,890.95 L270.25,890.95 L270.5,890.95 L270.75,890.95 L271,890.95 L271.25,890.95 L271.5,890.95 L271.75,890.95 L272,890.95 L272.25,890.95 L272.5,890.95 L272.75,890.95 L273,890.95 L273.25,890.95 L273.5,890.95 L273.75,890.95 L274,890.95 L274.25,890.95 L274.5,890.95 L274.75,890.95 L275,890.95 L275.25,890.95 L275.5,890.95 L275.75,890.95 L276,890.95 L276.25,890.95 L276.5,890.95 L276.75,890.95 L277,890.95 L277.25,890.95 L277.5,890.95 L277.75,890.95 L278,890.95 L278.25,890.95 L278.5,890.95 L278.75,890.95 L279,890.95 L279.25,890.95 L279.5,890.95 L279.75,890.95 L280,890.95 L280.25,890.95 L280.5,890.95 L280.75,890.95 L281,890.95 L281.25,890.95 L281.5,890.95 L281.75,890.95 L282,890.95 L282.25,890.95 L282.5,890.95 L282.75,890.95 L283,890.95 L283.25,890.95 L283.5,890.95 L283.75,890.95 L284,890.95 L284.25,890.95 L284.5,890.95 L284.75,890.95 L285,890.95 L285.25,890.95 L285.5,890.95 L285.75,890.95 L286,890.95 L286.25,890.95 L286.5,890.95 L286.75,890.95 L287,890.95 L287.25,890.95 L287.5,890.95 L287.75,890.95 L288,890.95 L288.25,890.95 L288.5,890.95 L288.75,890.95 L289,890.95 L289.25,890.95 L289.5,890.95 L289.75,890.95 L290,890.95 L290.25,890.95 L290.5,890.95 L290.75,890.95 L291,890.95 L291.25,890.95 L291.5,890.95 L291.75,890.95 L292,890.95 L292.25,890.95 L292.5,890.95 L292.75,890.95 L293,890.95 L293.25,890.95 L293.5,890.95 L293.75,890.95 L294,890.95" fill="none" stroke="#762418" stroke-width="1.5" stroke-opacity="0.88" stroke-linejoin="round"/>
<text x="156.9" y="573.4" text-anchor="middle">6.73</text>
<text x="205.7" y="530" xml:space="preserve">NL: 3.00E8</text>
<text x="205.7" y="542.85" xml:space="preserve">m/z=</text>
<text x="205.7" y="555.7" xml:space="preserve">649.5167-649.5361 F:</text>
<text x="205.7" y="568.55" xml:space="preserve">FTMS + p ESI Full ms</text>
<text x="205.7" y="581.4" xml:space="preserve">[250.0000-1200.0000]</text>
<text x="205.7" y="594.25" xml:space="preserve"> MS H229_MeOH</text>
<text class="r" x="205.7" y="617" xml:space="preserve">NL: 3.00E8</text>
<text class="r" x="205.7" y="629.85" xml:space="preserve">m/z=</text>
<text class="r" x="205.7" y="642.7" xml:space="preserve">649.5167-649.5361 F:</text>
<text class="r" x="205.7" y="655.55" xml:space="preserve">FTMS + p ESI Full ms</text>
<text class="r" x="205.7" y="668.4" xml:space="preserve">[250.0000-1200.0000]</text>
<text class="r" x="205.7" y="681.25" xml:space="preserve"> MS 1A_MeOH_HESI</text>
<text class="L" x="420" y="497.3">B</text>
<path d="M460.4,514.95V890.95H710.45" fill="none" stroke="#262626" stroke-width="1.3"/>
<path d="M456.4,890.95H460.4M458,887.19H460.4M458,883.43H460.4M458,879.67H460.4M458,875.91H460.4M456.4,872.15H460.4M458,868.39H460.4M458,864.63H460.4M458,860.87H460.4M458,857.11H460.4M456.4,853.35H460.4M458,849.59H460.4M458,845.83H460.4M458,842.07H460.4M458,838.31H460.4M456.4,834.55H460.4M458,830.79H460.4M458,827.03H460.4M458,823.27H460.4M458,819.51H460.4M456.4,815.75H460.4M458,811.99H460.4M458,808.23H460.4M458,804.47H460.4M458,800.71H460.4M456.4,796.95H460.4M458,793.19H460.4M458,789.43H460.4M458,785.67H460.4M458,781.91H460.4M456.4,778.15H460.4M458,774.39H460.4M458,770.63H460.4M458,766.87H460.4M458,763.11H460.4M456.4,759.35H460.4M458,755.59H460.4M458,751.83H460.4M458,748.07H460.4M458,744.31H460.4M456.4,740.55H460.4M458,736.79H460.4M458,733.03H460.4M458,729.27H460.4M458,725.51H460.4M456.4,721.75H460.4M458,717.99H460.4M458,714.23H460.4M458,710.47H460.4M458,706.71H460.4M456.4,702.95H460.4M458,699.19H460.4M458,695.43H460.4M458,691.67H460.4M458,687.91H460.4M456.4,684.15H460.4M458,680.39H460.4M458,676.63H460.4M458,672.87H460.4M458,669.11H460.4M456.4,665.35H460.4M458,661.59H460.4M458,657.83H460.4M458,654.07H460.4M458,650.31H460.4M456.4,646.55H460.4M458,642.79H460.4M458,639.03H460.4M458,635.27H460.4M458,631.51H460.4M456.4,627.75H460.4M458,623.99H460.4M458,620.23H460.4M458,616.47H460.4M458,612.71H460.4M456.4,608.95H460.4M458,605.19H460.4M458,601.43H460.4M458,597.67H460.4M458,593.91H460.4M456.4,590.15H460.4M458,586.39H460.4M458,582.63H460.4M458,578.87H460.4M458,575.11H460.4M456.4,571.35H460.4M458,567.59H460.4M458,563.83H460.4M458,560.07H460.4M458,556.31H460.4M456.4,552.55H460.4M458,548.79H460.4M458,545.03H460.4M458,541.27H460.4M458,537.51H460.4M456.4,533.75H460.4M458,529.99H460.4M458,526.23H460.4M458,522.47H460.4M458,518.71H460.4M456.4,514.95H460.4M460.4,890.95V894.95M468.73,890.95V893.45M477.07,890.95V893.45M485.4,890.95V893.45M493.74,890.95V894.95M502.07,890.95V893.45M510.41,890.95V893.45M518.75,890.95V893.45M527.08,890.95V894.95M535.41,890.95V893.45M543.75,890.95V893.45M552.09,890.95V893.45M560.42,890.95V894.95M568.75,890.95V893.45M577.09,890.95V893.45M585.42,890.95V893.45M593.76,890.95V894.95M602.1,890.95V893.45M610.43,890.95V893.45M618.76,890.95V893.45M627.1,890.95V894.95M635.43,890.95V893.45M643.77,890.95V893.45M652.11,890.95V893.45M660.44,890.95V894.95M668.77,890.95V893.45M677.11,890.95V893.45M685.44,890.95V893.45M693.78,890.95V894.95M702.12,890.95V893.45M710.45,890.95V893.45" fill="none" stroke="#262626" stroke-width="1"/>
<text x="440.7" y="893.8" text-anchor="middle">0</text>
<text x="440.7" y="875" text-anchor="middle">5</text>
<text x="441.3" y="856.2" text-anchor="middle">10</text>
<text x="441.3" y="837.4" text-anchor="middle">15</text>
<text x="441.3" y="818.6" text-anchor="middle">20</text>
<text x="441.3" y="799.8" text-anchor="middle">25</text>
<text x="441.3" y="781" text-anchor="middle">30</text>
<text x="441.3" y="762.2" text-anchor="middle">35</text>
<text x="441.3" y="743.4" text-anchor="middle">40</text>
<text x="441.3" y="724.6" text-anchor="middle">45</text>
<text x="441.3" y="705.8" text-anchor="middle">50</text>
<text x="441.3" y="687" text-anchor="middle">55</text>
<text x="441.3" y="668.2" text-anchor="middle">60</text>
<text x="441.3" y="649.4" text-anchor="middle">65</text>
<text x="441.3" y="630.6" text-anchor="middle">70</text>
<text x="441.3" y="611.8" text-anchor="middle">75</text>
<text x="441.3" y="593" text-anchor="middle">80</text>
<text x="441.3" y="574.2" text-anchor="middle">85</text>
<text x="441.3" y="555.4" text-anchor="middle">90</text>
<text x="441.3" y="536.6" text-anchor="middle">95</text>
<text x="442.5" y="517.8" text-anchor="middle">100</text>
<text x="460.4" y="905.7" text-anchor="middle">0</text>
<text x="493.74" y="905.7" text-anchor="middle">2</text>
<text x="527.08" y="905.7" text-anchor="middle">4</text>
<text x="560.42" y="905.7" text-anchor="middle">6</text>
<text x="593.76" y="905.7" text-anchor="middle">8</text>
<text x="627.1" y="905.7" text-anchor="middle">10</text>
<text x="660.44" y="905.7" text-anchor="middle">12</text>
<text x="693.78" y="905.7" text-anchor="middle">14</text>
<text x="546.3" y="922.8">Time (min)</text>
<text class="ra" transform="translate(424.8,700.3) rotate(-90)" text-anchor="middle">Relative Abundance</text>
<path d="M460.4,890.95 L460.65,890.95 L460.9,890.95 L461.15,890.95 L461.4,890.95 L461.65,890.95 L461.9,890.95 L462.15,890.95 L462.4,890.95 L462.65,890.95 L462.9,890.95 L463.15,890.95 L463.4,890.95 L463.65,890.95 L463.9,890.95 L464.15,890.95 L464.4,890.95 L464.65,890.95 L464.9,890.95 L465.15,890.95 L465.4,890.95 L465.65,890.95 L465.9,890.95 L466.15,890.95 L466.4,890.95 L466.65,890.95 L466.9,890.95 L467.15,890.95 L467.4,890.95 L467.65,890.95 L467.9,890.95 L468.15,890.95 L468.4,890.95 L468.65,890.95 L468.9,890.95 L469.15,890.95 L469.4,890.95 L469.65,890.95 L469.9,890.95 L470.15,890.95 L470.4,890.95 L470.65,890.95 L470.9,890.95 L471.15,890.95 L471.4,890.95 L471.65,890.95 L471.9,890.95 L472.15,890.95 L472.4,890.95 L472.65,890.95 L472.9,890.95 L473.15,890.95 L473.4,890.95 L473.65,890.95 L473.9,890.95 L474.15,890.95 L474.4,890.95 L474.65,890.95 L474.9,890.95 L475.15,890.95 L475.4,890.95 L475.65,890.95 L475.9,890.95 L476.15,890.95 L476.4,890.95 L476.65,890.95 L476.9,890.95 L477.15,890.95 L477.4,890.95 L477.65,890.95 L477.9,890.95 L478.15,890.95 L478.4,890.95 L478.65,890.95 L478.9,890.95 L479.15,890.95 L479.4,890.95 L479.65,890.95 L479.9,890.95 L480.15,890.95 L480.4,890.95 L480.65,890.95 L480.9,890.95 L481.15,890.95 L481.4,890.95 L481.65,890.95 L481.9,890.95 L482.15,890.95 L482.4,890.95 L482.65,890.95 L482.9,890.95 L483.15,890.95 L483.4,890.95 L483.65,890.95 L483.9,890.95 L484.15,890.95 L484.4,890.95 L484.65,890.95 L484.9,890.95 L485.15,890.95 L485.4,890.95 L485.65,890.95 L485.9,890.95 L486.15,890.95 L486.4,890.95 L486.65,890.95 L486.9,890.95 L487.15,890.95 L487.4,890.95 L487.65,890.95 L487.9,890.95 L488.15,890.95 L488.4,890.95 L488.65,890.95 L488.9,890.95 L489.15,890.95 L489.4,890.95 L489.65,890.95 L489.9,890.95 L490.15,890.95 L490.4,890.95 L490.65,890.95 L490.9,890.95 L491.15,890.95 L491.4,890.95 L491.65,890.95 L491.9,890.95 L492.15,890.95 L492.4,890.95 L492.65,890.95 L492.9,890.95 L493.15,890.95 L493.4,890.95 L493.65,890.95 L493.9,890.95 L494.15,890.95 L494.4,890.95 L494.65,890.95 L494.9,890.95 L495.15,890.95 L495.4,890.95 L495.65,890.95 L495.9,890.95 L496.15,890.95 L496.4,890.95 L496.65,890.95 L496.9,890.95 L497.15,890.95 L497.4,890.95 L497.65,890.95 L497.9,890.95 L498.15,890.95 L498.4,890.95 L498.65,890.95 L498.9,890.95 L499.15,890.95 L499.4,890.95 L499.65,890.95 L499.9,890.95 L500.15,890.95 L500.4,890.95 L500.65,890.95 L500.9,890.95 L501.15,890.95 L501.4,890.95 L501.65,890.95 L501.9,890.95 L502.15,890.95 L502.4,890.95 L502.65,890.95 L502.9,890.95 L503.15,890.95 L503.4,890.95 L503.65,890.95 L503.9,890.95 L504.15,890.95 L504.4,890.95 L504.65,890.95 L504.9,890.95 L505.15,890.95 L505.4,890.95 L505.65,890.95 L505.9,890.95 L506.15,890.95 L506.4,890.95 L506.65,890.95 L506.9,890.95 L507.15,890.95 L507.4,890.95 L507.65,890.95 L507.9,890.95 L508.15,890.95 L508.4,890.95 L508.65,890.95 L508.9,890.95 L509.15,890.95 L509.4,890.95 L509.65,890.95 L509.9,890.95 L510.15,890.95 L510.4,890.95 L510.65,890.95 L510.9,890.95 L511.15,890.95 L511.4,890.95 L511.65,890.95 L511.9,890.95 L512.15,890.95 L512.4,890.95 L512.65,890.95 L512.9,890.95 L513.15,890.95 L513.4,890.95 L513.65,890.95 L513.9,890.95 L514.15,890.95 L514.4,890.95 L514.65,890.95 L514.9,890.95 L515.15,890.95 L515.4,890.95 L515.65,890.95 L515.9,890.95 L516.15,890.95 L516.4,890.95 L516.65,890.95 L516.9,890.95 L517.15,890.95 L517.4,890.95 L517.65,890.95 L517.9,890.95 L518.15,890.95 L518.4,890.95 L518.65,890.95 L518.9,890.95 L519.15,890.95 L519.4,890.95 L519.65,890.95 L519.9,890.95 L520.15,890.95 L520.4,890.95 L520.65,890.95 L520.9,890.95 L521.15,890.95 L521.4,890.95 L521.65,890.95 L521.9,890.95 L522.15,890.95 L522.4,890.95 L522.65,890.95 L522.9,890.95 L523.15,890.95 L523.4,890.95 L523.65,890.95 L523.9,890.95 L524.15,890.95 L524.4,890.95 L524.65,890.95 L524.9,890.95 L525.15,890.95 L525.4,890.95 L525.65,890.95 L525.9,890.95 L526.15,890.95 L526.4,890.95 L526.65,890.95 L526.9,890.95 L527.15,890.95 L527.4,890.95 L527.65,890.95 L527.9,890.95 L528.15,890.95 L528.4,890.95 L528.65,890.95 L528.9,890.95 L529.15,890.95 L529.4,890.95 L529.65,890.95 L529.9,890.95 L530.15,890.95 L530.4,890.95 L530.65,890.95 L530.9,890.95 L531.15,890.95 L531.4,890.95 L531.65,890.95 L531.9,890.95 L532.15,890.95 L532.4,890.95 L532.65,890.95 L532.9,890.95 L533.15,890.95 L533.4,890.95 L533.65,890.95 L533.9,890.95 L534.15,890.95 L534.4,890.95 L534.65,890.95 L534.9,890.95 L535.15,890.95 L535.4,890.95 L535.65,890.95 L535.9,890.95 L536.15,890.95 L536.4,890.95 L536.65,890.95 L536.9,890.95 L537.15,890.95 L537.4,890.95 L537.65,890.95 L537.9,890.95 L538.15,890.95 L538.4,890.95 L538.65,890.95 L538.9,890.95 L539.15,890.95 L539.4,890.95 L539.65,890.95 L539.9,890.95 L540.15,890.95 L540.4,890.95 L540.65,890.95 L540.9,890.95 L541.15,890.95 L541.4,890.95 L541.65,890.95 L541.9,890.95 L542.15,890.95 L542.4,890.95 L542.65,890.95 L542.9,890.95 L543.15,890.95 L543.4,890.95 L543.65,890.95 L543.9,890.95 L544.15,890.95 L544.4,890.95 L544.65,890.95 L544.9,890.95 L545.15,890.95 L545.4,890.95 L545.65,890.95 L545.9,890.95 L546.15,890.95 L546.4,890.95 L546.65,890.95 L546.9,890.95 L547.15,890.95 L547.4,890.95 L547.65,890.95 L547.9,890.95 L548.15,890.95 L548.4,890.95 L548.65,890.95 L548.9,890.95 L549.15,890.95 L549.4,890.95 L549.65,890.95 L549.9,890.95 L550.15,890.95 L550.4,890.95 L550.65,890.95 L550.9,890.95 L551.15,890.95 L551.4,890.95 L551.65,890.95 L551.9,890.95 L552.15,890.95 L552.4,890.95 L552.65,890.95 L552.9,890.95 L553.15,890.95 L553.4,890.95 L553.65,890.95 L553.9,890.95 L554.15,890.95 L554.4,890.95 L554.65,890.95 L554.9,890.95 L555.15,890.95 L555.4,890.95 L555.65,890.95 L555.9,890.95 L556.15,890.95 L556.4,890.95 L556.65,890.95 L556.9,890.95 L557.15,890.95 L557.4,890.95 L557.65,890.95 L557.9,890.95 L558.15,890.95 L558.4,890.95 L558.65,890.95 L558.9,890.95 L559.15,890.95 L559.4,890.95 L559.65,890.95 L559.9,890.95 L560.15,890.95 L560.4,890.95 L560.65,890.95 L560.9,890.95 L561.15,890.95 L561.4,890.95 L561.65,890.95 L561.9,890.95 L562.15,890.95 L562.4,890.95 L562.65,890.95 L562.9,890.95 L563.15,890.95 L563.4,890.95 L563.65,890.95 L563.9,890.95 L564.15,890.95 L564.4,890.95 L564.65,890.95 L564.9,890.95 L565.15,890.95 L565.4,890.95 L565.65,890.95 L565.9,890.95 L566.15,890.95 L566.4,890.95 L566.65,890.95 L566.9,890.95 L567.15,890.95 L567.4,890.95 L567.65,890.95 L567.9,890.95 L568.15,890.95 L568.4,890.95 L568.65,890.95 L568.9,890.95 L569.15,890.95 L569.4,890.95 L569.65,890.95 L569.9,890.95 L570.15,890.95 L570.4,890.95 L570.65,890.95 L570.9,890.95 L571.15,890.95 L571.4,890.95 L571.65,890.95 L571.9,890.95 L572.15,890.95 L572.4,890.95 L572.65,890.95 L572.9,890.95 L573.15,890.95 L573.4,890.95 L573.65,890.95 L573.9,890.95 L574.15,890.95 L574.4,890.95 L574.65,890.95 L574.9,890.95 L575.15,890.95 L575.4,890.95 L575.65,890.95 L575.9,890.95 L576.15,890.95 L576.4,890.95 L576.65,890.95 L576.9,890.95 L577.15,890.95 L577.4,890.95 L577.65,890.95 L577.9,890.95 L578.15,890.95 L578.4,890.95 L578.65,890.95 L578.9,890.95 L579.15,890.95 L579.4,890.95 L579.65,890.95 L579.9,890.95 L580.15,890.95 L580.4,890.95 L580.65,890.95 L580.9,890.95 L581.15,890.95 L581.4,890.95 L581.65,890.95 L581.9,890.95 L582.15,890.95 L582.4,890.95 L582.65,890.95 L582.9,890.95 L583.15,890.95 L583.4,890.95 L583.65,890.95 L583.9,890.95 L584.15,890.95 L584.4,890.95 L584.65,890.95 L584.9,890.95 L585.15,890.95 L585.4,890.95 L585.65,890.95 L585.9,890.95 L586.15,890.95 L586.4,890.95 L586.65,890.95 L586.9,890.95 L587.15,890.95 L587.4,890.95 L587.65,890.95 L587.9,890.95 L588.15,890.95 L588.4,890.95 L588.65,890.95 L588.9,890.95 L589.15,890.95 L589.4,890.95 L589.65,890.95 L589.9,890.95 L590.15,890.95 L590.4,890.95 L590.65,890.95 L590.9,890.95 L591.15,890.95 L591.4,890.95 L591.65,890.95 L591.9,890.95 L592.15,890.95 L592.4,890.95 L592.65,890.95 L592.9,890.95 L593.15,890.95 L593.4,890.95 L593.65,890.95 L593.9,890.95 L594.15,890.95 L594.4,890.95 L594.65,890.95 L594.9,890.95 L595.15,890.95 L595.4,890.95 L595.65,890.95 L595.9,890.95 L596.15,890.95 L596.4,890.95 L596.65,890.94 L596.9,890.93 L597.15,890.89 L597.4,890.8 L597.65,890.6 L597.9,890.2 L598.15,889.46 L598.4,888.24 L598.65,886.37 L598.9,883.73 L599.15,880.29 L599.4,876.15 L599.65,871.54 L599.9,866.78 L600.15,862.25 L600.4,858.28 L600.65,855.12 L600.9,852.86 L601.15,851.5 L601.4,850.87 L601.65,850.72 L601.9,850.92 L602.15,851.71 L602.4,853.08 L602.65,854.95 L602.9,857.25 L603.15,859.85 L603.4,862.67 L603.65,865.59 L603.9,868.5 L604.15,871.34 L604.4,874.01 L604.65,876.47 L604.9,878.7 L605.15,880.66 L605.4,882.36 L605.65,883.82 L605.9,885.04 L606.15,886.06 L606.4,886.9 L606.65,887.58 L606.9,888.14 L607.15,888.6 L607.4,888.97 L607.65,889.27 L607.9,889.53 L608.15,889.74 L608.4,889.92 L608.65,890.07 L608.9,890.2 L609.15,890.31 L609.4,890.4 L609.65,890.49 L609.9,890.56 L610.15,890.62 L610.4,890.67 L610.65,890.72 L610.9,890.76 L611.15,890.79 L611.4,890.82 L611.65,890.84 L611.9,890.86 L612.15,890.88 L612.4,890.89 L612.65,890.9 L612.9,890.91 L613.15,890.92 L613.4,890.93 L613.65,890.93 L613.9,890.94 L614.15,890.94 L614.4,890.94 L614.65,890.94 L614.9,890.95 L615.15,890.95 L615.4,890.95 L615.65,890.95 L615.9,890.95 L616.15,890.95 L616.4,890.95 L616.65,890.95 L616.9,890.95 L617.15,890.95 L617.4,890.95 L617.65,890.95 L617.9,890.95 L618.15,890.95 L618.4,890.95 L618.65,890.95 L618.9,890.95 L619.15,890.95 L619.4,890.95 L619.65,890.95 L619.9,890.95 L620.15,890.95 L620.4,890.95 L620.65,890.95 L620.9,890.95 L621.15,890.95 L621.4,890.95 L621.65,890.95 L621.9,890.95 L622.15,890.95 L622.4,890.95 L622.65,890.95 L622.9,890.95 L623.15,890.95 L623.4,890.95 L623.65,890.95 L623.9,890.95 L624.15,890.95 L624.4,890.95 L624.65,890.95 L624.9,890.95 L625.15,890.95 L625.4,890.95 L625.65,890.95 L625.9,890.95 L626.15,890.95 L626.4,890.95 L626.65,890.95 L626.9,890.95 L627.15,890.95 L627.4,890.95 L627.65,890.95 L627.9,890.95 L628.15,890.95 L628.4,890.95 L628.65,890.95 L628.9,890.95 L629.15,890.95 L629.4,890.95 L629.65,890.95 L629.9,890.95 L630.15,890.95 L630.4,890.95 L630.65,890.95 L630.9,890.95 L631.15,890.95 L631.4,890.95 L631.65,890.95 L631.9,890.95 L632.15,890.95 L632.4,890.95 L632.65,890.95 L632.9,890.95 L633.15,890.95 L633.4,890.95 L633.65,890.95 L633.9,890.95 L634.15,890.95 L634.4,890.95 L634.65,890.95 L634.9,890.95 L635.15,890.95 L635.4,890.95 L635.65,890.95 L635.9,890.95 L636.15,890.95 L636.4,890.95 L636.65,890.95 L636.9,890.95 L637.15,890.95 L637.4,890.95 L637.65,890.95 L637.9,890.95 L638.15,890.95 L638.4,890.95 L638.65,890.95 L638.9,890.95 L639.15,890.95 L639.4,890.95 L639.65,890.95 L639.9,890.95 L640.15,890.95 L640.4,890.95 L640.65,890.95 L640.9,890.95 L641.15,890.95 L641.4,890.95 L641.65,890.95 L641.9,890.95 L642.15,890.95 L642.4,890.95 L642.65,890.95 L642.9,890.95 L643.15,890.95 L643.4,890.95 L643.65,890.95 L643.9,890.95 L644.15,890.95 L644.4,890.95 L644.65,890.95 L644.9,890.95 L645.15,890.95 L645.4,890.95 L645.65,890.95 L645.9,890.95 L646.15,890.95 L646.4,890.95 L646.65,890.95 L646.9,890.95 L647.15,890.95 L647.4,890.95 L647.65,890.95 L647.9,890.95 L648.15,890.95 L648.4,890.95 L648.65,890.95 L648.9,890.95 L649.15,890.95 L649.4,890.95 L649.65,890.95 L649.9,890.95 L650.15,890.95 L650.4,890.95 L650.65,890.95 L650.9,890.95 L651.15,890.95 L651.4,890.95 L651.65,890.95 L651.9,890.95 L652.15,890.95 L652.4,890.95 L652.65,890.95 L652.9,890.95 L653.15,890.95 L653.4,890.95 L653.65,890.95 L653.9,890.95 L654.15,890.95 L654.4,890.95 L654.65,890.95 L654.9,890.95 L655.15,890.95 L655.4,890.95 L655.65,890.95 L655.9,890.95 L656.15,890.95 L656.4,890.95 L656.65,890.95 L656.9,890.95 L657.15,890.95 L657.4,890.95 L657.65,890.95 L657.9,890.95 L658.15,890.95 L658.4,890.95 L658.65,890.95 L658.9,890.95 L659.15,890.95 L659.4,890.95 L659.65,890.95 L659.9,890.95 L660.15,890.95 L660.4,890.95 L660.65,890.95 L660.9,890.95 L661.15,890.95 L661.4,890.95 L661.65,890.95 L661.9,890.95 L662.15,890.95 L662.4,890.95 L662.65,890.95 L662.9,890.95 L663.15,890.95 L663.4,890.95 L663.65,890.95 L663.9,890.95 L664.15,890.95 L664.4,890.95 L664.65,890.95 L664.9,890.95 L665.15,890.95 L665.4,890.95 L665.65,890.95 L665.9,890.95 L666.15,890.95 L666.4,890.95 L666.65,890.95 L666.9,890.95 L667.15,890.95 L667.4,890.95 L667.65,890.95 L667.9,890.95 L668.15,890.95 L668.4,890.95 L668.65,890.95 L668.9,890.95 L669.15,890.95 L669.4,890.95 L669.65,890.95 L669.9,890.95 L670.15,890.95 L670.4,890.95 L670.65,890.95 L670.9,890.95 L671.15,890.95 L671.4,890.95 L671.65,890.95 L671.9,890.95 L672.15,890.95 L672.4,890.95 L672.65,890.95 L672.9,890.95 L673.15,890.95 L673.4,890.95 L673.65,890.95 L673.9,890.95 L674.15,890.95 L674.4,890.95 L674.65,890.95 L674.9,890.95 L675.15,890.95 L675.4,890.95 L675.65,890.95 L675.9,890.95 L676.15,890.95 L676.4,890.95 L676.65,890.95 L676.9,890.95 L677.15,890.95 L677.4,890.95 L677.65,890.95 L677.9,890.95 L678.15,890.95 L678.4,890.95 L678.65,890.95 L678.9,890.95 L679.15,890.95 L679.4,890.95 L679.65,890.95 L679.9,890.95 L680.15,890.95 L680.4,890.95 L680.65,890.95 L680.9,890.95 L681.15,890.95 L681.4,890.95 L681.65,890.95 L681.9,890.95 L682.15,890.95 L682.4,890.95 L682.65,890.95 L682.9,890.95 L683.15,890.95 L683.4,890.95 L683.65,890.95 L683.9,890.95 L684.15,890.95 L684.4,890.95 L684.65,890.95 L684.9,890.95 L685.15,890.95 L685.4,890.95 L685.65,890.95 L685.9,890.95 L686.15,890.95 L686.4,890.95 L686.65,890.95 L686.9,890.95 L687.15,890.95 L687.4,890.95 L687.65,890.95 L687.9,890.95 L688.15,890.95 L688.4,890.95 L688.65,890.95 L688.9,890.95 L689.15,890.95 L689.4,890.95 L689.65,890.95 L689.9,890.95 L690.15,890.95 L690.4,890.95 L690.65,890.95 L690.9,890.95 L691.15,890.95 L691.4,890.95 L691.65,890.95 L691.9,890.95 L692.15,890.95 L692.4,890.95 L692.65,890.95 L692.9,890.95 L693.15,890.95 L693.4,890.95 L693.65,890.95 L693.9,890.95 L694.15,890.95 L694.4,890.95 L694.65,890.95 L694.9,890.95 L695.15,890.95 L695.4,890.95 L695.65,890.95 L695.9,890.95 L696.15,890.95 L696.4,890.95 L696.65,890.95 L696.9,890.95 L697.15,890.95 L697.4,890.95 L697.65,890.95 L697.9,890.95 L698.15,890.95 L698.4,890.95 L698.65,890.95 L698.9,890.95 L699.15,890.95 L699.4,890.95 L699.65,890.95 L699.9,890.95 L700.15,890.95 L700.4,890.95 L700.65,890.95 L700.9,890.95 L701.15,890.95 L701.4,890.95 L701.65,890.95 L701.9,890.95 L702.15,890.95 L702.4,890.95 L702.65,890.95 L702.9,890.95 L703.15,890.95 L703.4,890.95 L703.65,890.95 L703.9,890.95 L704.15,890.95 L704.4,890.95 L704.65,890.95 L704.9,890.95 L705.15,890.95 L705.4,890.95 L705.65,890.95 L705.9,890.95 L706.15,890.95 L706.4,890.95 L706.65,890.95 L706.9,890.95 L707.15,890.95 L707.4,890.95 L707.65,890.95 L707.9,890.95 L708.15,890.95 L708.4,890.95 L708.65,890.95 L708.9,890.95 L709.15,890.95 L709.4,890.95 L709.65,890.95 L709.9,890.95 L710.15,890.95 L710.4,890.95" fill="none" stroke="#3a3a3a" stroke-width="1.1" stroke-linejoin="round"/>
<path d="M460.4,890.95 L460.65,890.95 L460.9,890.95 L461.15,890.95 L461.4,890.95 L461.65,890.95 L461.9,890.95 L462.15,890.95 L462.4,890.95 L462.65,890.95 L462.9,890.95 L463.15,890.95 L463.4,890.95 L463.65,890.95 L463.9,890.95 L464.15,890.95 L464.4,890.95 L464.65,890.95 L464.9,890.95 L465.15,890.95 L465.4,890.95 L465.65,890.95 L465.9,890.95 L466.15,890.95 L466.4,890.95 L466.65,890.95 L466.9,890.95 L467.15,890.95 L467.4,890.95 L467.65,890.95 L467.9,890.95 L468.15,890.95 L468.4,890.95 L468.65,890.95 L468.9,890.95 L469.15,890.95 L469.4,890.95 L469.65,890.95 L469.9,890.95 L470.15,890.95 L470.4,890.95 L470.65,890.95 L470.9,890.95 L471.15,890.95 L471.4,890.95 L471.65,890.95 L471.9,890.95 L472.15,890.95 L472.4,890.95 L472.65,890.95 L472.9,890.95 L473.15,890.95 L473.4,890.95 L473.65,890.95 L473.9,890.95 L474.15,890.95 L474.4,890.95 L474.65,890.95 L474.9,890.95 L475.15,890.95 L475.4,890.95 L475.65,890.95 L475.9,890.95 L476.15,890.95 L476.4,890.95 L476.65,890.95 L476.9,890.95 L477.15,890.95 L477.4,890.95 L477.65,890.95 L477.9,890.95 L478.15,890.95 L478.4,890.95 L478.65,890.95 L478.9,890.95 L479.15,890.95 L479.4,890.95 L479.65,890.95 L479.9,890.95 L480.15,890.95 L480.4,890.95 L480.65,890.95 L480.9,890.95 L481.15,890.95 L481.4,890.95 L481.65,890.95 L481.9,890.95 L482.15,890.95 L482.4,890.95 L482.65,890.95 L482.9,890.95 L483.15,890.95 L483.4,890.95 L483.65,890.95 L483.9,890.95 L484.15,890.95 L484.4,890.95 L484.65,890.95 L484.9,890.95 L485.15,890.95 L485.4,890.95 L485.65,890.95 L485.9,890.95 L486.15,890.95 L486.4,890.95 L486.65,890.95 L486.9,890.95 L487.15,890.95 L487.4,890.95 L487.65,890.95 L487.9,890.95 L488.15,890.95 L488.4,890.95 L488.65,890.95 L488.9,890.95 L489.15,890.95 L489.4,890.95 L489.65,890.95 L489.9,890.95 L490.15,890.95 L490.4,890.95 L490.65,890.95 L490.9,890.95 L491.15,890.95 L491.4,890.95 L491.65,890.95 L491.9,890.95 L492.15,890.95 L492.4,890.95 L492.65,890.95 L492.9,890.95 L493.15,890.95 L493.4,890.95 L493.65,890.95 L493.9,890.95 L494.15,890.95 L494.4,890.95 L494.65,890.95 L494.9,890.95 L495.15,890.95 L495.4,890.95 L495.65,890.95 L495.9,890.95 L496.15,890.95 L496.4,890.95 L496.65,890.95 L496.9,890.95 L497.15,890.95 L497.4,890.95 L497.65,890.95 L497.9,890.95 L498.15,890.95 L498.4,890.95 L498.65,890.95 L498.9,890.95 L499.15,890.95 L499.4,890.95 L499.65,890.95 L499.9,890.95 L500.15,890.95 L500.4,890.95 L500.65,890.95 L500.9,890.95 L501.15,890.95 L501.4,890.95 L501.65,890.95 L501.9,890.95 L502.15,890.95 L502.4,890.95 L502.65,890.95 L502.9,890.95 L503.15,890.95 L503.4,890.95 L503.65,890.95 L503.9,890.95 L504.15,890.95 L504.4,890.95 L504.65,890.95 L504.9,890.95 L505.15,890.95 L505.4,890.95 L505.65,890.95 L505.9,890.95 L506.15,890.95 L506.4,890.95 L506.65,890.95 L506.9,890.95 L507.15,890.95 L507.4,890.95 L507.65,890.95 L507.9,890.95 L508.15,890.95 L508.4,890.95 L508.65,890.95 L508.9,890.95 L509.15,890.95 L509.4,890.95 L509.65,890.95 L509.9,890.95 L510.15,890.95 L510.4,890.95 L510.65,890.95 L510.9,890.95 L511.15,890.95 L511.4,890.95 L511.65,890.95 L511.9,890.95 L512.15,890.95 L512.4,890.95 L512.65,890.95 L512.9,890.95 L513.15,890.95 L513.4,890.95 L513.65,890.95 L513.9,890.95 L514.15,890.95 L514.4,890.95 L514.65,890.95 L514.9,890.95 L515.15,890.95 L515.4,890.95 L515.65,890.95 L515.9,890.95 L516.15,890.95 L516.4,890.95 L516.65,890.95 L516.9,890.95 L517.15,890.95 L517.4,890.95 L517.65,890.95 L517.9,890.95 L518.15,890.95 L518.4,890.95 L518.65,890.95 L518.9,890.95 L519.15,890.95 L519.4,890.95 L519.65,890.95 L519.9,890.95 L520.15,890.95 L520.4,890.95 L520.65,890.95 L520.9,890.95 L521.15,890.95 L521.4,890.95 L521.65,890.95 L521.9,890.95 L522.15,890.95 L522.4,890.95 L522.65,890.95 L522.9,890.95 L523.15,890.95 L523.4,890.95 L523.65,890.95 L523.9,890.95 L524.15,890.95 L524.4,890.95 L524.65,890.95 L524.9,890.95 L525.15,890.95 L525.4,890.95 L525.65,890.95 L525.9,890.95 L526.15,890.95 L526.4,890.95 L526.65,890.95 L526.9,890.95 L527.15,890.95 L527.4,890.95 L527.65,890.95 L527.9,890.95 L528.15,890.95 L528.4,890.95 L528.65,890.95 L528.9,890.95 L529.15,890.95 L529.4,890.95 L529.65,890.95 L529.9,890.95 L530.15,890.95 L530.4,890.95 L530.65,890.95 L530.9,890.95 L531.15,890.95 L531.4,890.95 L531.65,890.95 L531.9,890.95 L532.15,890.95 L532.4,890.95 L532.65,890.95 L532.9,890.95 L533.15,890.95 L533.4,890.95 L533.65,890.95 L533.9,890.95 L534.15,890.95 L534.4,890.95 L534.65,890.95 L534.9,890.95 L535.15,890.95 L535.4,890.95 L535.65,890.95 L535.9,890.95 L536.15,890.95 L536.4,890.95 L536.65,890.95 L536.9,890.95 L537.15,890.95 L537.4,890.95 L537.65,890.95 L537.9,890.95 L538.15,890.95 L538.4,890.95 L538.65,890.95 L538.9,890.95 L539.15,890.95 L539.4,890.95 L539.65,890.95 L539.9,890.95 L540.15,890.95 L540.4,890.95 L540.65,890.95 L540.9,890.95 L541.15,890.95 L541.4,890.95 L541.65,890.95 L541.9,890.95 L542.15,890.95 L542.4,890.95 L542.65,890.95 L542.9,890.95 L543.15,890.95 L543.4,890.95 L543.65,890.95 L543.9,890.95 L544.15,890.95 L544.4,890.95 L544.65,890.95 L544.9,890.95 L545.15,890.95 L545.4,890.95 L545.65,890.95 L545.9,890.95 L546.15,890.95 L546.4,890.95 L546.65,890.95 L546.9,890.95 L547.15,890.95 L547.4,890.95 L547.65,890.95 L547.9,890.95 L548.15,890.95 L548.4,890.95 L548.65,890.95 L548.9,890.95 L549.15,890.95 L549.4,890.95 L549.65,890.95 L549.9,890.95 L550.15,890.95 L550.4,890.95 L550.65,890.95 L550.9,890.95 L551.15,890.95 L551.4,890.95 L551.65,890.95 L551.9,890.95 L552.15,890.95 L552.4,890.95 L552.65,890.95 L552.9,890.95 L553.15,890.95 L553.4,890.95 L553.65,890.95 L553.9,890.95 L554.15,890.95 L554.4,890.95 L554.65,890.95 L554.9,890.95 L555.15,890.95 L555.4,890.95 L555.65,890.95 L555.9,890.95 L556.15,890.95 L556.4,890.95 L556.65,890.95 L556.9,890.95 L557.15,890.95 L557.4,890.95 L557.65,890.95 L557.9,890.95 L558.15,890.95 L558.4,890.95 L558.65,890.95 L558.9,890.95 L559.15,890.95 L559.4,890.95 L559.65,890.95 L559.9,890.95 L560.15,890.95 L560.4,890.95 L560.65,890.95 L560.9,890.95 L561.15,890.95 L561.4,890.95 L561.65,890.95 L561.9,890.95 L562.15,890.95 L562.4,890.95 L562.65,890.95 L562.9,890.95 L563.15,890.95 L563.4,890.95 L563.65,890.95 L563.9,890.95 L564.15,890.95 L564.4,890.95 L564.65,890.95 L564.9,890.95 L565.15,890.95 L565.4,890.95 L565.65,890.95 L565.9,890.95 L566.15,890.95 L566.4,890.95 L566.65,890.95 L566.9,890.95 L567.15,890.95 L567.4,890.95 L567.65,890.95 L567.9,890.95 L568.15,890.95 L568.4,890.95 L568.65,890.95 L568.9,890.95 L569.15,890.95 L569.4,890.95 L569.65,890.95 L569.9,890.95 L570.15,890.95 L570.4,890.95 L570.65,890.95 L570.9,890.95 L571.15,890.95 L571.4,890.95 L571.65,890.95 L571.9,890.95 L572.15,890.95 L572.4,890.95 L572.65,890.95 L572.9,890.95 L573.15,890.95 L573.4,890.95 L573.65,890.95 L573.9,890.95 L574.15,890.95 L574.4,890.95 L574.65,890.95 L574.9,890.95 L575.15,890.95 L575.4,890.95 L575.65,890.95 L575.9,890.95 L576.15,890.95 L576.4,890.95 L576.65,890.95 L576.9,890.95 L577.15,890.95 L577.4,890.95 L577.65,890.95 L577.9,890.95 L578.15,890.95 L578.4,890.95 L578.65,890.95 L578.9,890.95 L579.15,890.95 L579.4,890.95 L579.65,890.95 L579.9,890.95 L580.15,890.95 L580.4,890.95 L580.65,890.95 L580.9,890.95 L581.15,890.95 L581.4,890.95 L581.65,890.95 L581.9,890.95 L582.15,890.95 L582.4,890.95 L582.65,890.95 L582.9,890.95 L583.15,890.95 L583.4,890.95 L583.65,890.95 L583.9,890.95 L584.15,890.95 L584.4,890.95 L584.65,890.95 L584.9,890.95 L585.15,890.95 L585.4,890.95 L585.65,890.95 L585.9,890.95 L586.15,890.95 L586.4,890.95 L586.65,890.95 L586.9,890.95 L587.15,890.95 L587.4,890.95 L587.65,890.95 L587.9,890.95 L588.15,890.95 L588.4,890.95 L588.65,890.95 L588.9,890.95 L589.15,890.95 L589.4,890.95 L589.65,890.95 L589.9,890.95 L590.15,890.95 L590.4,890.95 L590.65,890.95 L590.9,890.95 L591.15,890.95 L591.4,890.95 L591.65,890.95 L591.9,890.95 L592.15,890.95 L592.4,890.95 L592.65,890.95 L592.9,890.95 L593.15,890.95 L593.4,890.95 L593.65,890.95 L593.9,890.95 L594.15,890.95 L594.4,890.95 L594.65,890.95 L594.9,890.95 L595.15,890.95 L595.4,890.95 L595.65,890.95 L595.9,890.95 L596.15,890.94 L596.4,890.93 L596.65,890.87 L596.9,890.71 L597.15,890.31 L597.4,889.37 L597.65,887.39 L597.9,883.58 L598.15,876.88 L598.4,866.07 L598.65,850.05 L598.9,828.17 L599.15,800.56 L599.4,768.35 L599.65,733.55 L599.9,698.78 L600.15,666.72 L600.4,639.62 L600.65,618.91 L600.9,604.97 L601.15,597.24 L601.4,594.27 L601.65,594 L601.9,597.2 L602.15,604.82 L602.4,616.48 L602.65,631.63 L602.9,649.57 L603.15,669.54 L603.4,690.72 L603.65,712.34 L603.9,733.7 L604.15,754.19 L604.4,773.36 L604.65,790.86 L604.9,806.51 L605.15,820.24 L605.4,832.07 L605.65,842.1 L605.9,850.5 L606.15,857.46 L606.4,863.17 L606.65,867.83 L606.9,871.63 L607.15,874.73 L607.4,877.27 L607.65,879.36 L607.9,881.1 L608.15,882.55 L608.4,883.78 L608.65,884.83 L608.9,885.73 L609.15,886.51 L609.4,887.18 L609.65,887.75 L609.9,888.25 L610.15,888.69 L610.4,889.06 L610.65,889.37 L610.9,889.64 L611.15,889.87 L611.4,890.07 L611.65,890.23 L611.9,890.36 L612.15,890.48 L612.4,890.57 L612.65,890.64 L612.9,890.71 L613.15,890.76 L613.4,890.8 L613.65,890.83 L613.9,890.86 L614.15,890.88 L614.4,890.89 L614.65,890.91 L614.9,890.92 L615.15,890.93 L615.4,890.93 L615.65,890.94 L615.9,890.94 L616.15,890.94 L616.4,890.94 L616.65,890.95 L616.9,890.95 L617.15,890.95 L617.4,890.95 L617.65,890.95 L617.9,890.95 L618.15,890.95 L618.4,890.95 L618.65,890.95 L618.9,890.95 L619.15,890.95 L619.4,890.95 L619.65,890.95 L619.9,890.95 L620.15,890.95 L620.4,890.95 L620.65,890.95 L620.9,890.95 L621.15,890.95 L621.4,890.95 L621.65,890.95 L621.9,890.95 L622.15,890.95 L622.4,890.95 L622.65,890.95 L622.9,890.95 L623.15,890.95 L623.4,890.95 L623.65,890.95 L623.9,890.95 L624.15,890.95 L624.4,890.95 L624.65,890.95 L624.9,890.95 L625.15,890.95 L625.4,890.95 L625.65,890.95 L625.9,890.95 L626.15,890.95 L626.4,890.95 L626.65,890.95 L626.9,890.95 L627.15,890.95 L627.4,890.95 L627.65,890.95 L627.9,890.95 L628.15,890.95 L628.4,890.95 L628.65,890.95 L628.9,890.95 L629.15,890.95 L629.4,890.95 L629.65,890.95 L629.9,890.95 L630.15,890.95 L630.4,890.95 L630.65,890.95 L630.9,890.95 L631.15,890.95 L631.4,890.95 L631.65,890.95 L631.9,890.95 L632.15,890.95 L632.4,890.95 L632.65,890.95 L632.9,890.95 L633.15,890.95 L633.4,890.95 L633.65,890.95 L633.9,890.95 L634.15,890.95 L634.4,890.95 L634.65,890.95 L634.9,890.95 L635.15,890.95 L635.4,890.95 L635.65,890.95 L635.9,890.95 L636.15,890.95 L636.4,890.95 L636.65,890.95 L636.9,890.95 L637.15,890.95 L637.4,890.95 L637.65,890.95 L637.9,890.95 L638.15,890.95 L638.4,890.95 L638.65,890.95 L638.9,890.95 L639.15,890.95 L639.4,890.95 L639.65,890.95 L639.9,890.95 L640.15,890.95 L640.4,890.95 L640.65,890.95 L640.9,890.95 L641.15,890.95 L641.4,890.95 L641.65,890.95 L641.9,890.95 L642.15,890.95 L642.4,890.95 L642.65,890.95 L642.9,890.95 L643.15,890.95 L643.4,890.95 L643.65,890.95 L643.9,890.95 L644.15,890.95 L644.4,890.95 L644.65,890.95 L644.9,890.95 L645.15,890.95 L645.4,890.95 L645.65,890.95 L645.9,890.95 L646.15,890.95 L646.4,890.95 L646.65,890.95 L646.9,890.95 L647.15,890.95 L647.4,890.95 L647.65,890.95 L647.9,890.95 L648.15,890.95 L648.4,890.95 L648.65,890.95 L648.9,890.95 L649.15,890.95 L649.4,890.95 L649.65,890.95 L649.9,890.95 L650.15,890.95 L650.4,890.95 L650.65,890.95 L650.9,890.95 L651.15,890.95 L651.4,890.95 L651.65,890.95 L651.9,890.95 L652.15,890.95 L652.4,890.95 L652.65,890.95 L652.9,890.95 L653.15,890.95 L653.4,890.95 L653.65,890.95 L653.9,890.95 L654.15,890.95 L654.4,890.95 L654.65,890.95 L654.9,890.95 L655.15,890.95 L655.4,890.95 L655.65,890.95 L655.9,890.95 L656.15,890.95 L656.4,890.95 L656.65,890.95 L656.9,890.95 L657.15,890.95 L657.4,890.95 L657.65,890.95 L657.9,890.95 L658.15,890.95 L658.4,890.95 L658.65,890.95 L658.9,890.95 L659.15,890.95 L659.4,890.95 L659.65,890.95 L659.9,890.95 L660.15,890.95 L660.4,890.95 L660.65,890.95 L660.9,890.95 L661.15,890.95 L661.4,890.95 L661.65,890.95 L661.9,890.95 L662.15,890.95 L662.4,890.95 L662.65,890.95 L662.9,890.95 L663.15,890.95 L663.4,890.95 L663.65,890.95 L663.9,890.95 L664.15,890.95 L664.4,890.95 L664.65,890.95 L664.9,890.95 L665.15,890.95 L665.4,890.95 L665.65,890.95 L665.9,890.95 L666.15,890.95 L666.4,890.95 L666.65,890.95 L666.9,890.95 L667.15,890.95 L667.4,890.95 L667.65,890.95 L667.9,890.95 L668.15,890.95 L668.4,890.95 L668.65,890.95 L668.9,890.95 L669.15,890.95 L669.4,890.95 L669.65,890.95 L669.9,890.95 L670.15,890.95 L670.4,890.95 L670.65,890.95 L670.9,890.95 L671.15,890.95 L671.4,890.95 L671.65,890.95 L671.9,890.95 L672.15,890.95 L672.4,890.95 L672.65,890.95 L672.9,890.95 L673.15,890.95 L673.4,890.95 L673.65,890.95 L673.9,890.95 L674.15,890.95 L674.4,890.95 L674.65,890.95 L674.9,890.95 L675.15,890.95 L675.4,890.95 L675.65,890.95 L675.9,890.95 L676.15,890.95 L676.4,890.95 L676.65,890.95 L676.9,890.95 L677.15,890.95 L677.4,890.95 L677.65,890.95 L677.9,890.95 L678.15,890.95 L678.4,890.95 L678.65,890.95 L678.9,890.95 L679.15,890.95 L679.4,890.95 L679.65,890.95 L679.9,890.95 L680.15,890.95 L680.4,890.95 L680.65,890.95 L680.9,890.95 L681.15,890.95 L681.4,890.95 L681.65,890.95 L681.9,890.95 L682.15,890.95 L682.4,890.95 L682.65,890.95 L682.9,890.95 L683.15,890.95 L683.4,890.95 L683.65,890.95 L683.9,890.95 L684.15,890.95 L684.4,890.95 L684.65,890.95 L684.9,890.95 L685.15,890.95 L685.4,890.95 L685.65,890.95 L685.9,890.95 L686.15,890.95 L686.4,890.95 L686.65,890.95 L686.9,890.95 L687.15,890.95 L687.4,890.95 L687.65,890.95 L687.9,890.95 L688.15,890.95 L688.4,890.95 L688.65,890.95 L688.9,890.95 L689.15,890.95 L689.4,890.95 L689.65,890.95 L689.9,890.95 L690.15,890.95 L690.4,890.95 L690.65,890.95 L690.9,890.95 L691.15,890.95 L691.4,890.95 L691.65,890.95 L691.9,890.95 L692.15,890.95 L692.4,890.95 L692.65,890.95 L692.9,890.95 L693.15,890.95 L693.4,890.95 L693.65,890.95 L693.9,890.95 L694.15,890.95 L694.4,890.95 L694.65,890.95 L694.9,890.95 L695.15,890.95 L695.4,890.95 L695.65,890.95 L695.9,890.95 L696.15,890.95 L696.4,890.95 L696.65,890.95 L696.9,890.95 L697.15,890.95 L697.4,890.95 L697.65,890.95 L697.9,890.95 L698.15,890.95 L698.4,890.95 L698.65,890.95 L698.9,890.95 L699.15,890.95 L699.4,890.95 L699.65,890.95 L699.9,890.95 L700.15,890.95 L700.4,890.95 L700.65,890.95 L700.9,890.95 L701.15,890.95 L701.4,890.95 L701.65,890.95 L701.9,890.95 L702.15,890.95 L702.4,890.95 L702.65,890.95 L702.9,890.95 L703.15,890.95 L703.4,890.95 L703.65,890.95 L703.9,890.95 L704.15,890.95 L704.4,890.95 L704.65,890.95 L704.9,890.95 L705.15,890.95 L705.4,890.95 L705.65,890.95 L705.9,890.95 L706.15,890.95 L706.4,890.95 L706.65,890.95 L706.9,890.95 L707.15,890.95 L707.4,890.95 L707.65,890.95 L707.9,890.95 L708.15,890.95 L708.4,890.95 L708.65,890.95 L708.9,890.95 L709.15,890.95 L709.4,890.95 L709.65,890.95 L709.9,890.95 L710.15,890.95 L710.4,890.95" fill="none" stroke="#762418" stroke-width="1.5" stroke-opacity="0.88" stroke-linejoin="round"/>
<text x="601.7" y="591.4" text-anchor="middle">8.52</text>
<text x="653.9" y="530" xml:space="preserve">NL: 1.50E8</text>
<text x="653.9" y="542.85" xml:space="preserve">m/z=</text>
<text x="653.9" y="555.7" xml:space="preserve">717.4481-717.4697 F:</text>
<text x="653.9" y="568.55" xml:space="preserve">FTMS + p ESI Full ms</text>
<text x="653.9" y="581.4" xml:space="preserve">[250.0000-1200.0000]</text>
<text x="653.9" y="594.25" xml:space="preserve"> MS H229_MeOH</text>
<text class="r" x="653.9" y="617" xml:space="preserve">NL: 1.50E8</text>
<text class="r" x="653.9" y="629.85" xml:space="preserve">m/z=</text>
<text class="r" x="653.9" y="642.7" xml:space="preserve">717.4481-717.4697 F:</text>
<text class="r" x="653.9" y="655.55" xml:space="preserve">FTMS + p ESI Full ms</text>
<text class="r" x="653.9" y="668.4" xml:space="preserve">[250.0000-1200.0000]</text>
<text class="r" x="653.9" y="681.25" xml:space="preserve"> MS 1A_MeOH_HESI</text>
</g>
</svg></div>
</body></html>
